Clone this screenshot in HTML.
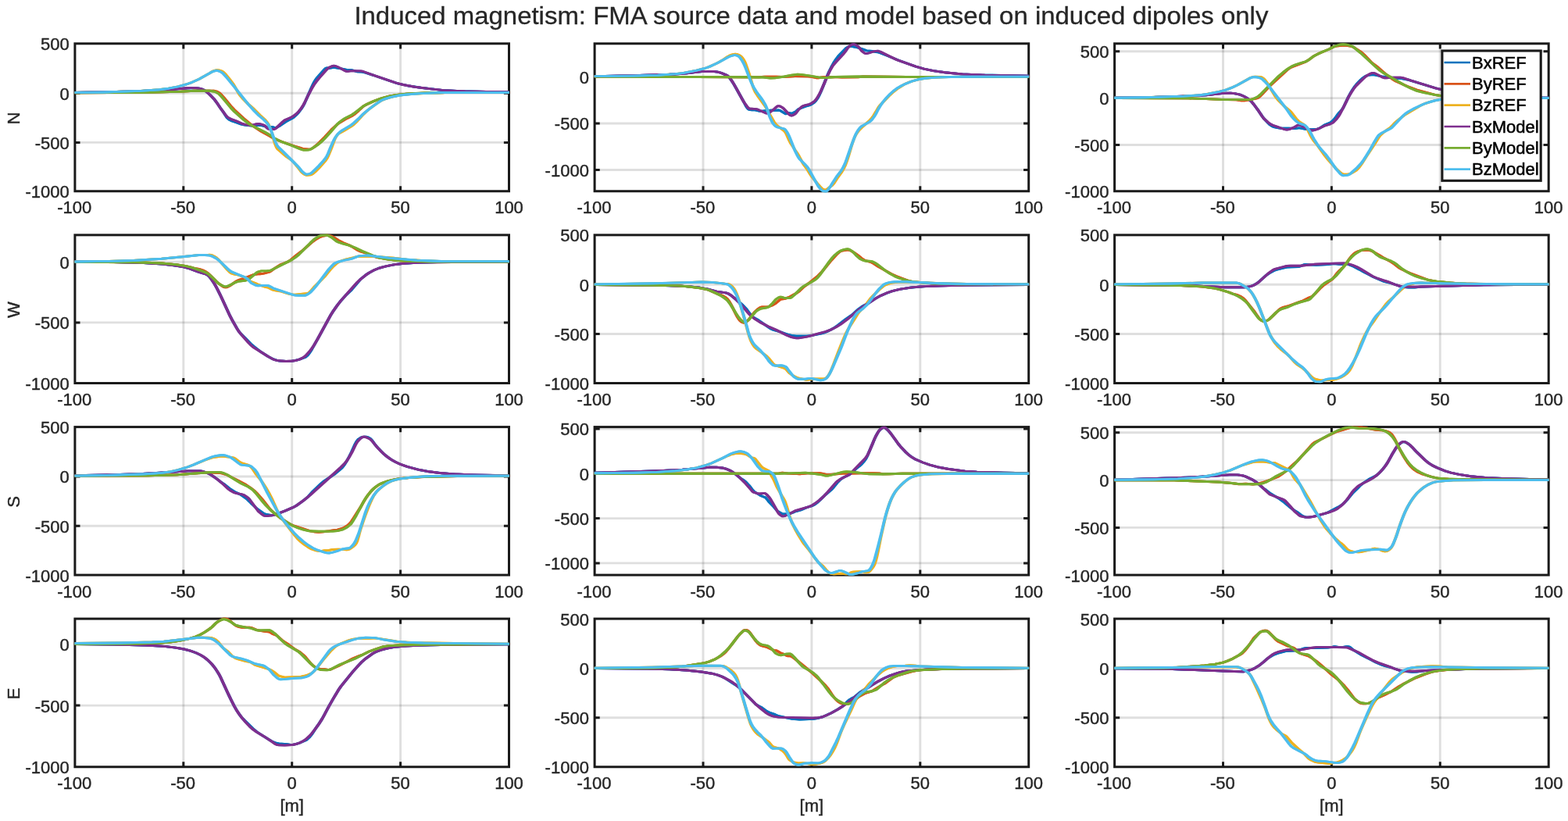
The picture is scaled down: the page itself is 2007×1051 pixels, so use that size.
<!DOCTYPE html>
<html lang="en">
<head>
<meta charset="utf-8">
<title>Induced magnetism: FMA source data and model based on induced dipoles only</title>
<style>
html,body{margin:0;padding:0;background:#fff;}
body{width:2007px;height:1051px;overflow:hidden;}
svg{display:block;}
</style>
</head>
<body>
<svg width="2007" height="1051" viewBox="0 0 2007 1051" font-family="'Liberation Sans', sans-serif">
<rect width="2007" height="1051" fill="#fff"/>
<defs>
<clipPath id="c00"><rect x="94.40" y="53.90" width="558.60" height="192.75"/></clipPath>
<clipPath id="c01"><rect x="759.60" y="53.90" width="558.60" height="192.75"/></clipPath>
<clipPath id="c02"><rect x="1425.10" y="53.90" width="558.60" height="192.75"/></clipPath>
<clipPath id="c10"><rect x="94.40" y="298.95" width="558.60" height="193.45"/></clipPath>
<clipPath id="c11"><rect x="759.60" y="298.95" width="558.60" height="193.45"/></clipPath>
<clipPath id="c12"><rect x="1425.10" y="298.95" width="558.60" height="193.45"/></clipPath>
<clipPath id="c20"><rect x="94.40" y="544.70" width="558.60" height="193.30"/></clipPath>
<clipPath id="c21"><rect x="759.60" y="544.70" width="558.60" height="193.30"/></clipPath>
<clipPath id="c22"><rect x="1425.10" y="544.70" width="558.60" height="193.30"/></clipPath>
<clipPath id="c30"><rect x="94.40" y="790.20" width="558.60" height="193.45"/></clipPath>
<clipPath id="c31"><rect x="759.60" y="790.20" width="558.60" height="193.45"/></clipPath>
<clipPath id="c32"><rect x="1425.10" y="790.20" width="558.60" height="193.45"/></clipPath>
</defs>
<text x="1038.4" y="31.3" font-size="31.4" fill="#262626" stroke="#262626" stroke-width="0.30" text-anchor="middle" textLength="1170" lengthAdjust="spacingAndGlyphs">Induced magnetism: FMA source data and model based on induced dipoles only</text>
<g>
<path d="M234.80 55.80V244.75M373.70 55.80V244.75M512.60 55.80V244.75" stroke="#262626" stroke-opacity="0.15" stroke-width="2.9" fill="none"/>
<path d="M95.90 119.20H651.50M95.90 182.40H651.50" stroke="#262626" stroke-opacity="0.15" stroke-width="2.9" fill="none"/>
<path d="M234.80 244.75v-6.60M234.80 55.80v6.60M373.70 244.75v-6.60M373.70 55.80v6.60M512.60 244.75v-6.60M512.60 55.80v6.60M95.90 119.20h6.60M651.50 119.20h-6.60M95.90 182.40h6.60M651.50 182.40h-6.60" stroke="#1a1a1a" stroke-width="3.0" fill="none"/>
<rect x="95.90" y="55.80" width="555.60" height="188.95" fill="none" stroke="#1a1a1a" stroke-width="3.0"/>
<g clip-path="url(#c00)" fill="none" stroke-width="2.9" stroke-linejoin="round">
<path id="p00bxr" d="M95.9 118.5L161.9 117.1L202.4 115.7L223.4 114.1L239.9 112.7L248.9 112.5L254.9 113.2L259.4 114.4L262.4 116.1L265.4 118.3L269.9 122.5L274.4 127.3L277.4 131.3L281.9 138L286.4 144.2L289.4 149.1L290.9 151L292.4 152.4L293.9 153.5L296.9 154.8L302.9 156.8L308.9 159.2L313.4 160.1L322.4 161.1L331.4 160.3L335.9 160.8L338.9 161.7L341.9 162.8L343.4 162.9L347.9 162.5L350.9 163.2L352.4 163.4L353.9 163.2L358.4 160.9L362.9 157.8L365.9 155.7L373.4 151.8L376.4 149.7L379.4 147L382.4 143.7L385.4 139.7L386.9 137.4L388.4 134.9L389.9 132L394.4 121.8L398.9 111.6L400.4 108.4L401.9 105.5L403.4 102.9L404.9 100.8L407.9 97.2L415.4 88.8L416.9 87.4L418.4 87L421.4 87.2L425.9 86.5L428.9 86.5L437.9 88.2L443.9 89.5L449.9 89.6L452.9 90.3L457.4 91.8L463.4 92.1L467.9 93.2L478.4 96.5L499.4 103.7L509.9 107.1L521.9 109.7L538.4 112.3L565.4 115.4L589.4 116.7L632.9 117.7L651.5 117.9" stroke="#0072BD" transform="translate(-0.50 0)"/><use href="#p00bxr" x="1.00"/>
<path id="p00byr" d="M95.9 118.9L185.9 118.3L227.9 117.4L248.9 116.3L269.9 116.1L274.4 116.3L277.4 117.1L280.4 118.7L283.4 121.4L286.4 124.7L295.4 135.7L299.9 140.6L311.9 151.5L320.9 159.2L325.4 162.3L334.4 168.3L344.9 174L349.4 176.7L359.9 181.1L371.9 185.3L377.9 187.3L383.9 189.1L386.9 190.2L389.9 190.8L395.9 191.2L397.4 190.9L398.9 190.4L401.9 188.4L406.4 184.7L415.4 175.7L424.4 165.9L431.9 159L434.9 156.9L443.9 151.6L449.9 148.7L454.4 145.7L458.9 141.8L464.9 136.3L467.9 134.4L476.9 130.1L487.4 126.1L497.9 123.2L506.9 121.6L520.4 120.1L541.4 119.1L569.9 118.5L651.5 118.5" stroke="#D95319" transform="translate(-0.50 0)"/><use href="#p00byr" x="1.00"/>
<path id="p00bzr" d="M95.9 118.5L133.4 118L179.9 116.4L203.9 114.7L215.9 113.2L227.9 110.8L238.4 108L245.9 105.3L254.9 101.2L266.9 94.6L271.4 91.7L274.4 90.4L277.4 89.7L280.4 90L283.4 90.8L284.9 91.6L286.4 92.7L289.4 95.8L293.9 101.3L298.4 107.4L299.9 109.7L304.4 117.7L305.9 120.2L307.4 122.4L310.4 125.9L317.9 133.4L325.4 139.9L332.9 147.5L338.9 153L341.9 156.5L343.4 158.7L344.9 161.7L346.4 165.4L347.9 169.8L349.4 175L350.9 180.5L352.4 185.3L353.9 188.8L355.4 191L358.4 193.5L362.9 197.3L365.9 200L371.9 204L373.4 205.2L376.4 208.3L380.9 213.7L385.4 219.7L386.9 221.2L388.4 222.4L389.9 223.4L391.4 224L392.9 224.2L397.4 223.8L398.9 223.3L400.4 222.5L403.4 220L407.9 215.5L416.9 205.2L418.4 203L419.9 200.1L422.9 193L424.4 189.2L427.4 181L428.9 177.3L430.4 174.5L431.9 172.4L433.4 171.1L436.4 169.4L440.9 167L449.9 161.6L452.9 159.3L457.4 154.9L464.9 146.6L469.4 142.3L473.9 138.5L484.4 131L488.9 128.3L494.9 126L505.4 123.2L512.9 121.8L527.9 120.3L551.9 119L569.9 118.5L651.5 118.5" stroke="#EDB120" transform="translate(-0.50 0)"/><use href="#p00bzr" x="1.00"/>
<path id="p00bx" d="M95.9 118.5L161.9 117.1L202.4 115.7L221.9 114.2L239.9 112.7L248.9 112.4L254.9 113.2L257.9 113.9L260.9 115.1L263.9 117.1L268.4 121L274.4 127.2L277.4 131.3L281.9 138L287.9 146.2L289.4 148.1L290.9 149.7L292.4 150.8L295.4 152.3L302.9 155.1L310.4 158.5L313.4 159.4L319.4 160.3L322.4 160.3L328.4 158.7L331.4 158.5L334.4 159.1L337.4 160.1L338.9 160.8L341.9 163.9L343.4 165L349.4 165.5L350.9 165.5L352.4 164.8L353.9 163.6L361.4 156.4L364.4 153.9L367.4 152.5L371.9 150.7L376.4 148L379.4 145.7L382.4 142.7L385.4 138.9L388.4 134.3L389.9 131.5L394.4 122L398.9 113.6L401.9 108.5L404.9 104.3L409.4 98.9L418.4 88.8L419.9 87.5L421.4 86.4L424.4 85L425.9 84.5L427.4 84.3L428.9 84.4L431.9 85.5L437.9 88.5L440.9 90.3L442.4 91L443.9 91.4L445.4 91.4L449.9 90.6L461.9 90.9L464.9 91.5L475.4 95.4L506.9 106.2L515.9 108.5L530.9 111.2L551.9 113.9L568.4 115.6L595.4 116.9L651.5 117.9" stroke="#7E2F8E" transform="translate(-0.50 0)"/><use href="#p00bx" x="1.00"/>
<path id="p00by" d="M95.9 118.9L185.9 118.3L227.9 117.4L248.9 116.3L268.4 116.3L274.4 117.2L277.4 118.5L280.4 120.4L283.4 123.5L287.9 128.9L295.4 137.9L299.9 142.7L311.9 153.4L317.9 158L322.4 160.8L338.9 169L344.9 172.5L350.9 176.8L356.9 180L362.9 182.3L371.9 185.6L383.9 190.6L386.9 191.7L388.4 192.1L392.9 192L395.9 191.7L397.4 191.2L401.9 188.5L406.4 185.5L410.9 181.9L415.4 177.5L422.9 169.2L431.9 158.9L434.9 156.1L439.4 152.8L443.9 150.2L449.9 147.4L452.9 145.3L464.9 136.1L470.9 132.8L479.9 128.9L488.9 125.6L499.4 122.9L508.4 121.4L521.9 120L542.9 119L569.9 118.5L651.5 118.5" stroke="#77AC30" transform="translate(-0.50 0)"/><use href="#p00by" x="1.00"/>
<path id="p00bz" d="M95.9 118.5L133.4 118L179.9 116.4L203.9 114.7L215.9 113.2L227.9 110.8L238.4 108L245.9 105.3L254.9 101.2L266.9 94.6L269.9 92.7L272.9 91.4L275.9 90.5L277.4 90.3L278.9 90.6L281.9 91.7L283.4 92.5L284.9 93.6L290.9 100.1L299.9 111.1L317.9 133.6L325.4 142L331.4 148L337.4 153L340.4 156L341.9 157.7L343.4 159.7L344.9 162.3L346.4 165.8L347.9 169.6L350.9 178L352.4 181.6L353.9 184.7L355.4 187.2L356.9 188.9L362.9 194.6L380.9 212.6L382.4 214.2L385.4 218L386.9 219.7L389.9 222.1L391.4 223L392.9 223.2L395.9 222.6L397.4 222.1L398.9 221.2L407.9 212.6L413.9 206L416.9 202.1L418.4 199.7L419.9 196.6L422.9 189L425.9 182.4L427.4 179.2L428.9 176.5L430.4 174.3L431.9 172.3L433.4 170.6L434.9 169.2L437.9 167L448.4 160.8L452.9 157.4L458.9 151.9L464.9 145.8L470.9 140.8L479.9 134.1L487.4 129L491.9 127L499.4 124.7L509.9 122.3L523.4 120.7L542.9 119.4L568.4 118.5L651.5 118.5" stroke="#4DBEEE" transform="translate(-0.50 0)"/><use href="#p00bz" x="1.00"/>
</g>
<g font-size="22" fill="#262626" stroke="#262626" stroke-width="0.42" text-anchor="middle">
<text x="95.3" y="273.1">-100</text>
<text x="234.2" y="273.1">-50</text>
<text x="373.7" y="273.1">0</text>
<text x="512.6" y="273.1">50</text>
<text x="651.5" y="273.1">100</text>
</g>
<g font-size="22" fill="#262626" stroke="#262626" stroke-width="0.42" text-anchor="end">
<text x="88.7" y="64.2">500</text>
<text x="88.7" y="127.6">0</text>
<text x="88.7" y="190.8">-500</text>
<text x="88.7" y="253.2">-1000</text>
</g>
<text transform="translate(25.2,151.3) rotate(-90)" font-size="22" fill="#262626" stroke="#262626" stroke-width="0.42" text-anchor="middle">N</text>
</g>
<g>
<path d="M900.00 55.80V244.75M1038.90 55.80V244.75M1177.80 55.80V244.75" stroke="#262626" stroke-opacity="0.15" stroke-width="2.9" fill="none"/>
<path d="M761.10 98.50H1316.70M761.10 158.00H1316.70M761.10 217.50H1316.70" stroke="#262626" stroke-opacity="0.15" stroke-width="2.9" fill="none"/>
<path d="M900.00 244.75v-6.60M900.00 55.80v6.60M1038.90 244.75v-6.60M1038.90 55.80v6.60M1177.80 244.75v-6.60M1177.80 55.80v6.60M761.10 98.50h6.60M1316.70 98.50h-6.60M761.10 158.00h6.60M1316.70 158.00h-6.60M761.10 217.50h6.60M1316.70 217.50h-6.60" stroke="#1a1a1a" stroke-width="3.0" fill="none"/>
<rect x="761.10" y="55.80" width="555.60" height="188.95" fill="none" stroke="#1a1a1a" stroke-width="3.0"/>
<g clip-path="url(#c01)" fill="none" stroke-width="2.9" stroke-linejoin="round">
<path id="p01bxr" d="M761.1 97.6L810.6 96.8L857.1 95.3L875.1 94.2L893.1 92.1L899.1 91.5L914.1 91.5L918.6 92.1L923.1 93.3L929.1 95.8L930.6 96.6L932.1 97.8L933.6 99.4L936.6 103.4L939.6 108.2L945.6 119L950.1 127L951.6 129.6L954.6 135.4L956.1 137.8L957.6 139.5L959.1 140.4L962.1 140.7L966.6 140.8L969.6 141.5L972.6 142.3L975.6 142.1L980.1 141.7L983.1 141.6L986.1 141.2L993.6 141.2L996.6 141L998.1 141.3L1005.6 145.7L1007.1 145.6L1008.6 145L1010.1 144.7L1013.1 145.1L1014.6 144.9L1017.6 143.4L1019.1 142.3L1022.1 139.7L1025.1 138.3L1031.1 136.2L1035.6 134.9L1038.6 133.6L1041.6 131.6L1043.1 130.2L1044.6 128.5L1046.1 126.4L1047.6 123.9L1049.1 121L1050.6 117.7L1053.6 110.4L1058.1 98.9L1061.1 91.9L1064.1 85.8L1067.1 80.4L1070.1 75.8L1073.1 71.8L1082.1 62.4L1083.6 61.2L1085.1 60.4L1086.6 59.8L1088.1 59.4L1091.1 59.5L1098.6 61.1L1103.1 62.7L1106.1 63.7L1109.1 64.9L1116.6 65.4L1121.1 66.6L1124.1 66.9L1127.1 67.8L1136.1 71.5L1151.1 77.7L1172.1 85.2L1182.6 88.1L1194.6 90.6L1209.6 92.8L1230.6 94.9L1256.1 96L1316.7 97.2" stroke="#0072BD" transform="translate(-0.50 0)"/><use href="#p01bxr" x="1.00"/>
<path id="p01byr" d="M761.1 98.1L954.6 98.7L971.1 98.8L978.6 98.3L987.6 98.3L993.6 98.2L1002.6 98.5L1017.6 97.5L1034.1 97.9L1038.6 98.3L1044.6 99.7L1047.6 99.8L1053.6 98.8L1067.1 98.5L1077.6 99.1L1098.6 98.7L1104.6 98L1160.1 98.5L1316.7 98.5" stroke="#D95319" transform="translate(-0.50 0)"/><use href="#p01byr" x="1.00"/>
<path id="p01bzr" d="M761.1 97.6L810.6 97.1L842.1 96.2L864.6 94.6L875.1 93.4L891.6 90.2L902.1 87.5L908.1 85.4L918.6 80.5L924.6 77.1L930.6 73L935.1 70.6L938.1 69.6L941.1 69.3L944.1 69.8L945.6 70.4L947.1 71.2L948.6 72.3L950.1 73.9L951.6 76L953.1 78.7L954.6 82.1L957.6 90.8L959.1 95.3L960.6 100.1L962.1 105.4L963.6 110.4L965.1 114.5L966.6 117.7L969.6 122.3L980.1 137L981.6 139.6L983.1 142.7L984.6 145.4L987.6 150.4L990.6 155.7L992.1 158L993.6 159.9L995.1 161.2L998.1 163.1L1001.1 165.7L1002.6 166.6L1004.1 167.9L1005.6 169.9L1007.1 172.8L1010.1 179.6L1011.6 182.6L1014.6 187.3L1017.6 192L1020.6 196.3L1022.1 198.8L1026.6 207.1L1028.1 209.7L1029.6 211.9L1032.6 215.9L1034.1 218.2L1037.1 223.3L1038.6 225.5L1047.6 236.6L1050.6 239.9L1052.1 241.3L1053.6 242.4L1055.1 243L1056.6 243.2L1058.1 242.7L1062.6 239.1L1064.1 238.1L1065.6 236.8L1067.1 235.1L1071.6 228.1L1077.6 219.8L1079.1 217.3L1080.6 214.5L1082.1 211.3L1083.6 207.2L1085.1 202.8L1086.6 198L1089.6 187.8L1091.1 183L1092.6 178.8L1094.1 175.2L1095.6 172.3L1097.1 169.9L1100.1 166.1L1103.1 163.1L1112.1 155.2L1115.1 152L1118.1 148L1121.1 143.1L1124.1 137.9L1125.6 135.8L1128.6 132.5L1134.6 126.3L1139.1 121.6L1143.6 117.5L1149.6 112.9L1157.1 108.2L1164.6 104.9L1172.1 102.6L1181.1 100.7L1188.6 99.7L1205.1 98.7L1233.6 98.1L1316.7 98.1" stroke="#EDB120" transform="translate(-0.50 0)"/><use href="#p01bzr" x="1.00"/>
<path id="p01bx" d="M761.1 97.6L810.6 96.8L857.1 95.3L875.1 94.3L891.6 92.4L897.6 91.6L914.1 91.5L918.6 92.1L923.1 93.3L929.1 95.8L930.6 96.5L932.1 97.6L933.6 99.2L936.6 103.4L938.1 105.6L942.6 113.4L948.6 124.4L951.6 129.7L953.1 132L956.1 136.2L957.6 138L959.1 139L968.1 139.6L971.1 140.7L980.1 144.8L981.6 145.1L983.1 145L984.6 144.4L990.6 139.8L993.6 137.1L995.1 136L996.6 135.6L998.1 135.9L1001.1 137.5L1002.6 138.6L1010.1 146.6L1011.6 147.7L1013.1 148L1014.6 147.6L1017.6 146L1019.1 144.5L1022.1 140.5L1025.1 137.7L1026.6 136.5L1028.1 135.6L1031.1 134.6L1035.6 133.6L1038.6 132.3L1041.6 130.3L1043.1 129L1044.6 127.3L1046.1 125.1L1049.1 119.9L1050.6 116.9L1055.1 106.7L1059.6 96L1062.6 89.9L1064.1 87.2L1065.6 84.7L1067.1 82.7L1070.1 79.3L1079.1 69.6L1082.1 65.9L1085.1 61.4L1086.6 59.7L1089.6 57.6L1091.1 56.9L1092.6 56.7L1094.1 57L1095.6 57.7L1098.6 59.8L1100.1 61.4L1103.1 65.4L1106.1 67.7L1107.6 68.4L1109.1 68.6L1112.1 67.9L1116.6 66.4L1121.1 65.4L1124.1 65.3L1127.1 66.4L1137.6 71.6L1148.1 76.6L1172.1 85.2L1182.6 88.1L1194.6 90.6L1209.6 92.8L1232.1 95L1260.6 96.2L1316.7 97.2" stroke="#7E2F8E" transform="translate(-0.50 0)"/><use href="#p01bx" x="1.00"/>
<path id="p01by" d="M761.1 98.1L954.6 98.7L977.1 99L986.1 100L992.1 99.8L1004.1 98L1013.1 96.2L1020.6 95.3L1025.1 95.4L1035.6 96.9L1047.6 98.9L1053.6 99.5L1059.6 99.2L1068.6 98.5L1098.6 98L1161.6 98.5L1316.7 98.5" stroke="#77AC30" transform="translate(-0.50 0)"/><use href="#p01by" x="1.00"/>
<path id="p01bz" d="M761.1 97.6L810.6 97.1L842.1 96.2L864.6 94.6L875.1 93.4L891.6 90.2L902.1 87.5L908.1 85.4L918.6 80.5L930.6 73.9L935.1 71.8L939.6 70.6L941.1 70.6L944.1 71.4L945.6 72.2L947.1 73.6L950.1 78L951.6 80.7L953.1 83.9L954.6 87.4L959.1 99.3L962.1 106.7L963.6 109.8L965.1 112.5L968.1 117.3L971.1 121.5L974.1 125.4L977.1 129.9L978.6 132.4L980.1 135.2L981.6 138.9L984.6 147.8L986.1 151.4L987.6 154.7L989.1 157.5L990.6 159.4L992.1 161L993.6 162.2L995.1 162.8L1002.6 164.6L1004.1 165.1L1005.6 166.5L1007.1 168.7L1008.6 171.3L1010.1 174.4L1016.1 189.4L1017.6 193L1020.6 199.1L1022.1 201.7L1023.6 203.8L1026.6 206.8L1029.6 209.7L1032.6 213L1034.1 214.9L1035.6 217.2L1043.1 231L1047.6 238.7L1049.1 240.6L1050.6 242.3L1052.1 243.7L1053.6 244.5L1056.6 245L1058.1 244.8L1059.6 243.3L1062.6 239.2L1065.6 234.2L1071.6 225.1L1076.1 219.3L1077.6 217.1L1079.1 214.4L1080.6 211.3L1082.1 208L1083.6 204.1L1089.6 186.8L1092.6 178.7L1094.1 174.8L1095.6 171.4L1097.1 168.7L1098.6 166.3L1100.1 164.3L1101.6 162.7L1103.1 161.5L1112.1 156.6L1113.6 155.5L1115.1 154.2L1116.6 152.5L1119.6 148.4L1121.1 145.8L1124.1 139.9L1127.1 135L1130.1 130.6L1134.6 125.2L1139.1 120.5L1143.6 116.5L1148.1 113.1L1152.6 110.4L1160.1 106.8L1167.6 103.9L1175.1 101.8L1184.1 100.2L1197.6 99.1L1227.6 98.2L1316.7 98.1" stroke="#4DBEEE" transform="translate(-0.50 0)"/><use href="#p01bz" x="1.00"/>
</g>
<g font-size="22" fill="#262626" stroke="#262626" stroke-width="0.42" text-anchor="middle">
<text x="760.5" y="273.1">-100</text>
<text x="899.4" y="273.1">-50</text>
<text x="1038.9" y="273.1">0</text>
<text x="1177.8" y="273.1">50</text>
<text x="1316.7" y="273.1">100</text>
</g>
<g font-size="22" fill="#262626" stroke="#262626" stroke-width="0.42" text-anchor="end">
<text x="753.9" y="106.9">0</text>
<text x="753.9" y="166.4">-500</text>
<text x="753.9" y="225.9">-1000</text>
</g>
</g>
<g>
<path d="M1565.50 55.80V244.75M1704.40 55.80V244.75M1843.30 55.80V244.75" stroke="#262626" stroke-opacity="0.15" stroke-width="2.9" fill="none"/>
<path d="M1426.60 65.70H1982.20M1426.60 125.60H1982.20M1426.60 185.50H1982.20" stroke="#262626" stroke-opacity="0.15" stroke-width="2.9" fill="none"/>
<path d="M1565.50 244.75v-6.60M1565.50 55.80v6.60M1704.40 244.75v-6.60M1704.40 55.80v6.60M1843.30 244.75v-6.60M1843.30 55.80v6.60M1426.60 65.70h6.60M1982.20 65.70h-6.60M1426.60 125.60h6.60M1982.20 125.60h-6.60M1426.60 185.50h6.60M1982.20 185.50h-6.60" stroke="#1a1a1a" stroke-width="3.0" fill="none"/>
<rect x="1426.60" y="55.80" width="555.60" height="188.95" fill="none" stroke="#1a1a1a" stroke-width="3.0"/>
<g clip-path="url(#c02)" fill="none" stroke-width="2.9" stroke-linejoin="round">
<path id="p02bxr" d="M1426.6 125.2L1476.1 124.4L1521.1 123L1543.6 121.7L1558.6 120.1L1567.6 119.3L1575.1 119.1L1581.1 119.8L1587.1 121.2L1591.6 123L1596.1 125.6L1599.1 127.7L1602.1 130.4L1605.1 134L1611.1 142.2L1615.6 148.9L1617.1 150.9L1623.1 157.5L1624.6 159L1627.6 161.2L1630.6 162.6L1635.1 163.6L1639.6 164.3L1650.1 164.3L1656.1 164.5L1659.1 164.4L1662.1 163.9L1663.6 163.9L1671.1 165.4L1680.1 165.7L1686.1 165.1L1689.1 164.1L1695.1 160.2L1702.6 157L1704.1 156.1L1705.6 154.9L1707.1 153.4L1710.1 149.6L1713.1 145.4L1717.6 140.4L1719.1 138.3L1722.1 132.2L1725.1 125.8L1728.1 120.1L1731.1 115L1734.1 110.6L1737.1 107L1741.6 102.3L1744.6 99.7L1747.6 97.7L1750.6 96.4L1755.1 95.7L1758.1 95.6L1768.6 97.9L1776.1 98.7L1788.1 100.2L1794.1 100.5L1801.6 102.1L1803.1 102.3L1837.6 112.9L1852.6 116.5L1867.6 119.1L1890.1 121.9L1909.6 123.4L1941.1 124.7L1978.6 125.2L1982.2 125.2" stroke="#0072BD" transform="translate(-0.50 0)"/><use href="#p02bxr" x="1.00"/>
<path id="p02byr" d="M1426.6 125.5L1521.1 125.8L1570.6 127.6L1582.6 127.7L1588.6 128.7L1593.1 128.8L1606.6 126.4L1609.6 125.6L1611.1 124.7L1612.6 123.5L1615.6 120.5L1624.6 110.8L1636.6 99.6L1648.6 88.7L1651.6 86.6L1654.6 85.3L1660.6 83.2L1671.1 79.1L1674.1 77.3L1681.6 71.8L1687.6 68.7L1695.1 65.5L1701.1 63L1707.1 59.9L1710.1 59.1L1717.6 58.2L1723.6 58.4L1729.6 59.3L1732.6 60.5L1741.6 66.2L1746.1 70L1750.6 74.7L1755.1 79.5L1758.1 82L1764.1 86.5L1773.1 94.3L1782.1 101.2L1786.6 103.9L1801.6 110.6L1813.6 115.1L1837.6 121.6L1854.1 123.7L1870.6 124.7L1911.1 125.5L1982.2 125.5" stroke="#D95319" transform="translate(-0.50 0)"/><use href="#p02byr" x="1.00"/>
<path id="p02bzr" d="M1426.6 125.2L1465.6 124.7L1513.6 123.2L1534.6 121.9L1543.6 120.7L1560.1 117.4L1569.1 115.1L1576.6 112.2L1584.1 108.7L1600.6 99.6L1603.6 98.5L1606.6 98.1L1612.6 98.4L1614.1 98.7L1615.6 99.3L1617.1 100.4L1618.6 101.8L1620.1 103.6L1623.1 107.9L1632.1 122.9L1633.6 125.1L1636.6 128.7L1644.1 136.1L1650.1 141L1653.1 144.1L1659.1 151.9L1660.6 153.6L1662.1 155.1L1665.1 157.2L1668.1 159L1669.6 160.1L1671.1 161.7L1672.6 163.9L1674.1 166.7L1677.1 172.8L1678.6 175.7L1680.1 178.1L1681.6 180.2L1686.1 185.6L1695.1 198.3L1699.6 204L1710.1 215.7L1716.1 221.2L1717.6 222.3L1719.1 222.9L1722.1 223.3L1725.1 223.2L1728.1 222.5L1731.1 221L1735.6 218.3L1737.1 217L1740.1 213.7L1743.1 209.5L1749.1 200L1759.6 184.2L1764.1 176.9L1765.6 174.7L1767.1 172.9L1770.1 170.1L1774.6 166.8L1779.1 163.7L1782.1 160.9L1785.1 157.6L1788.1 154.9L1794.1 150.2L1798.6 146.7L1815.1 137L1818.1 135.1L1824.1 132.5L1833.1 129.6L1840.6 127.9L1852.6 126.6L1867.6 126L1902.1 125.5L1982.2 125.5" stroke="#EDB120" transform="translate(-0.50 0)"/><use href="#p02bzr" x="1.00"/>
<path id="p02bx" d="M1426.6 125.2L1476.1 124.4L1521.1 123L1543.6 121.7L1557.1 120.3L1566.1 119.4L1575.1 119.1L1581.1 119.8L1587.1 121.2L1591.6 123L1596.1 125.6L1600.6 128.8L1602.1 130.3L1605.1 134L1611.1 142.2L1615.6 149L1617.1 151L1618.6 152.7L1623.1 156.7L1626.1 158.9L1629.1 160.4L1635.1 162.4L1641.1 164.5L1644.1 165.6L1647.1 166.1L1650.1 165.6L1656.1 163.2L1660.6 160.4L1662.1 160L1663.6 160.1L1666.6 161.4L1675.6 166L1678.6 167L1680.1 167L1683.1 166.4L1687.6 164.8L1695.1 161.2L1702.6 158.8L1705.6 157.3L1707.1 156.1L1710.1 153L1713.1 149.2L1714.6 146.8L1720.6 135.4L1725.1 126.1L1726.6 123.2L1729.6 118.2L1732.6 113.7L1735.6 109.9L1740.1 105.4L1747.6 98.3L1750.6 96.3L1753.6 94.5L1755.1 93.9L1756.6 93.5L1758.1 93.4L1759.6 93.8L1770.1 99.2L1771.6 99.7L1774.6 99.8L1783.6 99.1L1792.6 99.1L1795.6 99.7L1806.1 103.2L1837.6 112.9L1852.6 116.5L1866.1 118.9L1887.1 121.6L1905.1 123.1L1933.6 124.4L1965.1 125.1L1982.2 125.2" stroke="#7E2F8E" transform="translate(-0.50 0)"/><use href="#p02bx" x="1.00"/>
<path id="p02by" d="M1426.6 125.5L1521.1 125.8L1570.6 127.6L1600.6 127.6L1603.6 126.8L1609.6 124L1611.1 122.9L1614.1 120.3L1636.6 97.6L1642.6 92.5L1648.6 88L1653.1 85.1L1657.6 83.1L1665.1 80.6L1671.1 78.9L1672.6 78.2L1675.6 76.3L1680.1 72.8L1684.6 70.2L1692.1 66.6L1701.1 63L1708.6 59.1L1714.6 57.3L1719.1 56.7L1723.6 57.1L1729.6 58.8L1732.6 60.4L1741.6 67.8L1761.1 85.7L1765.6 89.8L1770.1 92.9L1788.1 103.5L1797.1 108.8L1806.1 113.2L1813.6 116.3L1822.6 118.7L1837.6 121.6L1854.1 123.7L1870.6 124.7L1911.1 125.5L1982.2 125.5" stroke="#77AC30" transform="translate(-0.50 0)"/><use href="#p02by" x="1.00"/>
<path id="p02bz" d="M1426.6 125.2L1465.6 124.7L1515.1 123.1L1536.1 121.8L1546.6 120.2L1561.6 117.1L1570.6 114.6L1578.1 111.6L1584.1 108.8L1599.1 100.4L1602.1 99.1L1605.1 98.5L1609.6 99L1612.6 99.8L1614.1 100.3L1615.6 101.3L1618.6 104.1L1621.6 107.2L1624.6 110.9L1647.1 140.2L1653.1 148.8L1656.1 152.2L1659.1 155.1L1662.1 157.3L1665.1 158.6L1668.1 159.5L1669.6 160.1L1671.1 161.2L1672.6 162.7L1675.6 166.8L1677.1 169.2L1680.1 175L1681.6 177.7L1686.1 184.8L1689.1 189L1692.1 192.4L1696.6 197.4L1701.1 203.4L1710.1 216.3L1714.6 221.4L1716.1 222.9L1717.6 224.1L1719.1 224.7L1723.6 224.4L1725.1 224.1L1726.6 223.6L1728.1 222.7L1737.1 214.6L1741.6 209.8L1744.6 206L1749.1 199.1L1753.6 191.7L1758.1 183.6L1762.6 176.1L1764.1 173.9L1765.6 172.4L1768.6 170.3L1774.6 167.1L1779.1 165L1780.6 164L1782.1 162.8L1795.6 148.5L1798.6 145.8L1803.1 142.7L1810.6 138.6L1821.1 133.7L1828.6 131L1837.6 128.5L1843.6 127.5L1857.1 126.3L1890.1 125.6L1982.2 125.5" stroke="#4DBEEE" transform="translate(-0.50 0)"/><use href="#p02bz" x="1.00"/>
</g>
<g font-size="22" fill="#262626" stroke="#262626" stroke-width="0.42" text-anchor="middle">
<text x="1426.0" y="273.1">-100</text>
<text x="1564.9" y="273.1">-50</text>
<text x="1704.4" y="273.1">0</text>
<text x="1843.3" y="273.1">50</text>
<text x="1982.2" y="273.1">100</text>
</g>
<g font-size="22" fill="#262626" stroke="#262626" stroke-width="0.42" text-anchor="end">
<text x="1419.4" y="74.1">500</text>
<text x="1419.4" y="134.0">0</text>
<text x="1419.4" y="193.9">-500</text>
<text x="1419.4" y="253.2">-1000</text>
</g>
</g>
<g>
<path d="M234.80 300.85V490.50M373.70 300.85V490.50M512.60 300.85V490.50" stroke="#262626" stroke-opacity="0.15" stroke-width="2.9" fill="none"/>
<path d="M95.90 335.30H651.50M95.90 412.90H651.50" stroke="#262626" stroke-opacity="0.15" stroke-width="2.9" fill="none"/>
<path d="M234.80 490.50v-6.60M234.80 300.85v6.60M373.70 490.50v-6.60M373.70 300.85v6.60M512.60 490.50v-6.60M512.60 300.85v6.60M95.90 335.30h6.60M651.50 335.30h-6.60M95.90 412.90h6.60M651.50 412.90h-6.60" stroke="#1a1a1a" stroke-width="3.0" fill="none"/>
<rect x="95.90" y="300.85" width="555.60" height="189.65" fill="none" stroke="#1a1a1a" stroke-width="3.0"/>
<g clip-path="url(#c10)" fill="none" stroke-width="2.9" stroke-linejoin="round">
<path id="p10bxr" d="M95.9 335L145.4 335.5L179.9 336.4L208.4 338.1L224.9 340L235.4 341.9L241.4 343.5L253.4 347.8L262.4 350.5L265.4 351.9L266.9 353.1L268.4 354.6L271.4 358.6L274.4 363.3L277.4 368.6L281.9 377.5L287.9 390.4L293.9 403.4L296.9 409.2L302.9 419.8L304.4 422.2L305.9 424.4L307.4 426.4L313.4 432.2L320.9 440L325.4 443.9L334.4 450.8L343.4 456.5L349.4 459.7L353.9 461.2L358.4 462L365.9 462.4L373.4 462.1L377.9 461.5L382.4 460.4L389.9 457.7L391.4 456.9L392.9 455.7L394.4 454.2L395.9 452.2L398.9 447.6L409.4 428.9L422.9 404.1L425.9 399.2L431.9 390.6L436.4 384.9L442.4 378.3L449.9 371.1L460.4 358.7L461.9 357.1L467.9 352.3L472.4 349.2L478.4 346L484.4 343.5L491.9 341.3L502.4 339.1L514.4 337.5L532.4 336.2L559.4 335.6L651.5 335.3" stroke="#0072BD" transform="translate(-0.50 0)"/><use href="#p10bxr" x="1.00"/>
<path id="p10byr" d="M95.9 335.3L175.4 335.7L206.9 337L224.9 338.6L236.9 340.4L244.4 342.2L248.9 343.5L254.9 344.5L259.4 345.9L262.4 347.3L265.4 349.2L268.4 351.9L277.4 360.8L280.4 363.3L284.9 366.5L286.4 367.4L287.9 367.9L289.4 367.9L290.9 367.5L293.9 366L302.9 359.7L305.9 358.3L314.9 355.4L323.9 351.8L329.9 350.7L332.9 350.8L337.4 350.1L344.9 348.1L346.4 347.3L352.4 342.9L358.4 339.2L362.9 337.3L368.9 334.8L371.9 332.9L379.4 326.6L386.9 321L400.4 309.2L403.4 307.1L409.4 303.6L412.4 302.4L418.4 301.3L419.9 301.3L422.9 301.9L425.9 303.1L433.4 307.8L439.4 310.8L446.9 313.9L451.4 316.3L457.4 320.1L460.4 321.5L469.4 324.4L476.9 327.7L482.9 329.6L499.4 332.4L515.9 334.1L539.9 334.9L651.5 335" stroke="#D95319" transform="translate(-0.50 0)"/><use href="#p10byr" x="1.00"/>
<path id="p10bzr" d="M95.9 335L139.4 334.4L170.9 333.5L206.9 331.2L230.9 329L253.4 326.6L260.9 326.5L263.9 326.6L268.4 326.3L271.4 326.8L274.4 328.2L277.4 330.2L280.4 333.1L290.9 345.3L293.9 348.3L295.4 349.4L296.9 350.2L299.9 351L304.4 351.8L311.9 354.4L314.9 355.9L319.4 359.4L320.9 360.3L326.9 362.6L331.4 364.7L340.4 367.5L343.4 368.1L346.4 369.6L349.4 371.2L352.4 371.9L358.4 372.7L370.4 376.3L374.9 377.2L377.9 377.3L389.9 376L392.9 375.8L394.4 375.4L395.9 374.4L397.4 372.9L401.9 367.6L412.4 357.3L415.4 354.3L418.4 350.6L422.9 345L425.9 341.7L430.4 337.6L433.4 335.5L436.4 334.1L442.4 332.1L452.9 329.7L457.4 328.4L460.4 328L484.4 328.6L503.9 330.3L520.4 332.2L542.9 333.7L568.4 334.6L651.5 334.6" stroke="#EDB120" transform="translate(-0.50 0)"/><use href="#p10bzr" x="1.00"/>
<path id="p10bx" d="M95.9 335L145.4 335.5L179.9 336.4L208.4 338.1L224.9 340L235.4 341.9L241.4 343.4L253.4 347.9L262.4 350.5L265.4 351.9L266.9 352.9L268.4 354.5L272.9 360.8L275.9 365.8L278.9 371.4L283.4 380.6L293.9 403.5L296.9 409.2L302.9 419.9L304.4 422.3L305.9 424.6L308.9 428.2L317.9 438.5L320.9 441.6L323.9 444.2L343.4 456.5L349.4 459.8L352.4 460.8L356.9 461.8L365.9 462.5L374.9 462L379.4 461.2L383.9 459.9L388.4 457.5L389.9 456.5L391.4 455.2L395.9 450.3L398.9 446.4L401.9 442L406.4 434.3L422.9 404L425.9 399.2L431.9 390.6L436.4 384.9L452.9 366.3L457.4 361.3L461.9 357.1L467.9 352.3L472.4 349.2L478.4 345.9L485.9 343L494.9 340.6L505.4 338.6L518.9 337.1L538.4 336L578.9 335.5L651.5 335.3" stroke="#7E2F8E" transform="translate(-0.50 0)"/><use href="#p10bx" x="1.00"/>
<path id="p10by" d="M95.9 335.3L175.4 335.7L206.9 337L224.9 338.6L236.9 340.4L244.4 342.1L257.9 346.6L263.9 349.1L266.9 350.9L271.4 354.8L277.4 360.8L280.4 363.4L281.9 364.4L286.4 366.5L287.9 366.9L289.4 366.9L292.4 365.9L296.9 363.7L299.9 362.1L304.4 360.4L308.9 359.8L313.4 359.3L316.4 358.3L319.4 356.7L322.4 354.2L328.4 349.1L329.9 348.2L334.4 346.9L341.9 346.8L344.9 346.6L346.4 346.2L368.9 334.9L373.4 332.6L377.9 329.6L382.4 326L397.4 310.9L401.9 306.6L403.4 305.4L407.9 302.7L410.9 301.5L415.4 301.1L418.4 301.1L419.9 301.5L424.4 303.9L430.4 308.7L433.4 310.2L439.4 312.2L446.9 314.1L454.4 317L463.4 321.4L478.4 327.5L485.9 330L496.4 332L509.9 333.6L523.4 334.4L550.4 335L651.5 335" stroke="#77AC30" transform="translate(-0.50 0)"/><use href="#p10by" x="1.00"/>
<path id="p10bz" d="M95.9 335L139.4 334.4L170.9 333.5L206.9 331.2L230.9 329L254.9 326.5L262.4 326.5L268.4 327.1L271.4 328L275.9 330.4L278.9 332.3L281.9 335L290.9 343.6L293.9 346.3L296.9 348.2L302.9 350.6L313.4 354.8L314.9 355.7L316.4 356.7L320.9 361.6L322.4 362.8L326.9 365L329.9 365.8L341.9 365.4L343.4 365.6L346.4 367.1L349.4 368.8L374.9 377.3L377.9 378.1L382.4 378.3L389.9 378.3L391.4 378L394.4 376.4L395.9 375.4L397.4 374.2L400.4 371.1L404.9 365.8L419.9 345.8L425.9 339.2L427.4 337.8L428.9 336.8L431.9 335.5L440.9 333.2L449.9 331.3L454.4 329.6L458.9 327.9L466.4 327.1L470.9 327L499.4 330.4L533.9 333.2L565.4 334.5L651.5 334.6" stroke="#4DBEEE" transform="translate(-0.50 0)"/><use href="#p10bz" x="1.00"/>
</g>
<g font-size="22" fill="#262626" stroke="#262626" stroke-width="0.42" text-anchor="middle">
<text x="95.3" y="518.9">-100</text>
<text x="234.2" y="518.9">-50</text>
<text x="373.7" y="518.9">0</text>
<text x="512.6" y="518.9">50</text>
<text x="651.5" y="518.9">100</text>
</g>
<g font-size="22" fill="#262626" stroke="#262626" stroke-width="0.42" text-anchor="end">
<text x="88.7" y="343.7">0</text>
<text x="88.7" y="421.3">-500</text>
<text x="88.7" y="498.9">-1000</text>
</g>
<text transform="translate(25.2,396.7) rotate(-90)" font-size="22" fill="#262626" stroke="#262626" stroke-width="0.42" text-anchor="middle">W</text>
</g>
<g>
<path d="M900.00 300.85V490.50M1038.90 300.85V490.50M1177.80 300.85V490.50" stroke="#262626" stroke-opacity="0.15" stroke-width="2.9" fill="none"/>
<path d="M761.10 364.25H1316.70M761.10 427.45H1316.70" stroke="#262626" stroke-opacity="0.15" stroke-width="2.9" fill="none"/>
<path d="M900.00 490.50v-6.60M900.00 300.85v6.60M1038.90 490.50v-6.60M1038.90 300.85v6.60M1177.80 490.50v-6.60M1177.80 300.85v6.60M761.10 364.25h6.60M1316.70 364.25h-6.60M761.10 427.45h6.60M1316.70 427.45h-6.60" stroke="#1a1a1a" stroke-width="3.0" fill="none"/>
<rect x="761.10" y="300.85" width="555.60" height="189.65" fill="none" stroke="#1a1a1a" stroke-width="3.0"/>
<g clip-path="url(#c11)" fill="none" stroke-width="2.9" stroke-linejoin="round">
<path id="p11bxr" d="M761.1 364.5L833.1 365.1L869.1 366L885.6 367.1L896.1 368.3L905.1 370L917.1 373.1L929.1 374.9L932.1 375.9L935.1 377.7L941.1 382.5L944.1 385.3L947.1 387.4L950.1 390L954.6 394.7L956.1 396.5L960.6 402.7L962.1 404.4L963.6 405.8L966.6 407.6L971.1 410.1L983.1 418.5L986.1 420.6L989.1 422L998.1 424.6L1008.6 428.3L1013.1 429.4L1019.1 430.2L1032.6 430.1L1037.1 429.8L1050.6 427.2L1055.1 425.9L1061.1 423.3L1067.1 420.1L1073.1 415.9L1082.1 408.9L1089.6 403.8L1092.6 401.4L1098.6 395.9L1103.1 392.6L1107.6 390.1L1112.1 387.9L1119.6 382.7L1127.1 378.6L1134.6 375.3L1142.1 372.6L1151.1 370.4L1164.6 368.3L1181.1 366.7L1202.1 365.9L1236.6 365L1316.7 364.6" stroke="#0072BD" transform="translate(-0.50 0)"/><use href="#p11bxr" x="1.00"/>
<path id="p11byr" d="M761.1 364.5L833.1 365.1L867.6 365.9L881.1 366.9L896.1 368.8L903.6 370.2L908.1 371.6L917.1 375.6L920.1 376.9L923.1 377.7L926.1 379.1L929.1 381L930.6 382.3L932.1 384.1L933.6 386.2L935.1 388.8L938.1 394.5L942.6 403.5L944.1 406.2L945.6 408.5L947.1 410.4L948.6 411.8L950.1 412.7L951.6 413.2L953.1 413.1L954.6 412.4L956.1 411.3L957.6 409.9L959.1 408.2L963.6 402.3L966.6 398.8L969.6 396L972.6 393.9L974.1 393.2L975.6 392.9L981.6 393L983.1 392.8L989.1 390.6L992.1 388.8L995.1 386.4L998.1 383.8L999.6 383L1004.1 382.5L1010.1 380.5L1016.1 377.1L1019.1 375.5L1022.1 373.5L1023.6 372.3L1028.1 367.9L1032.6 364.5L1037.1 361.2L1046.1 353.9L1052.1 347.7L1058.1 340.5L1064.1 333.2L1071.6 325.1L1074.6 322.5L1076.1 321.6L1077.6 321L1083.6 320.1L1085.1 320L1086.6 320.1L1089.6 321.2L1094.1 323.9L1098.6 327.2L1103.1 330.9L1106.1 332.8L1109.1 334L1115.1 335.7L1118.1 337.3L1124.1 341.3L1133.1 346.3L1140.6 350.5L1146.6 353.4L1164.6 360L1170.6 361L1193.1 362.8L1226.1 363.8L1316.7 363.9" stroke="#D95319" transform="translate(-0.50 0)"/><use href="#p11byr" x="1.00"/>
<path id="p11bzr" d="M761.1 363.9L834.6 362.9L879.6 361.6L897.6 361L911.1 361.4L923.1 362.6L929.1 363.5L930.6 363.4L932.1 363.6L933.6 364.2L935.1 365.1L936.6 366.2L938.1 367.8L939.6 369.7L941.1 372.3L942.6 375.5L944.1 379.3L945.6 383.7L948.6 393.3L951.6 403.7L954.6 414.5L957.6 425.8L959.1 430.8L960.6 435.1L962.1 438.3L963.6 441L965.1 443.3L966.6 445L968.1 446.4L975.6 451.6L981.6 456.2L984.6 459.3L989.1 465L990.6 466.6L992.1 467.5L1001.1 470.3L1004.1 471.3L1005.6 472.3L1007.1 473.8L1010.1 477.4L1014.6 480.5L1017.6 482.2L1020.6 483.6L1023.6 484.4L1031.1 486.2L1032.6 486.3L1040.1 485L1047.6 484.9L1053.6 484.9L1055.1 484.7L1056.6 484.3L1058.1 483.4L1059.6 481.8L1061.1 479.6L1062.6 476.8L1064.1 473.6L1067.1 466.1L1073.1 450.2L1079.1 435.2L1082.1 428.2L1085.1 422.4L1088.1 417.1L1094.1 407.9L1097.1 403L1098.6 400.8L1100.1 398.9L1104.6 394.3L1109.1 388.8L1113.6 382.8L1116.6 379.5L1125.6 370.6L1130.1 366.8L1133.1 364.9L1137.6 363.2L1143.6 361.7L1149.6 361.1L1160.1 360.9L1205.1 362.8L1238.1 363.5L1316.7 363.9" stroke="#EDB120" transform="translate(-0.50 0)"/><use href="#p11bzr" x="1.00"/>
<path id="p11bx" d="M761.1 364.5L833.1 365.1L869.1 366L885.6 367.1L896.1 368.3L905.1 370L917.1 373.1L929.1 374.9L932.1 375.8L935.1 377.7L941.1 382.5L947.1 388.4L959.1 402.2L962.1 405.1L966.6 408.6L972.6 412.4L983.1 417.8L993.6 422.4L1007.1 429.2L1013.1 431.6L1019.1 432.9L1022.1 432.9L1032.6 431.1L1038.6 429.6L1046.1 427.4L1056.6 424.6L1064.1 421.8L1070.1 418.8L1076.1 415.1L1085.1 408.4L1092.6 402L1098.6 397L1104.6 392.6L1112.1 387.9L1119.6 382.7L1127.1 378.6L1134.6 375.2L1142.1 372.6L1152.6 370.1L1167.6 367.9L1184.1 366.5L1235.1 365L1316.7 364.6" stroke="#7E2F8E" transform="translate(-0.50 0)"/><use href="#p11bx" x="1.00"/>
<path id="p11by" d="M761.1 364.5L833.1 365.1L867.6 365.9L879.6 366.7L896.1 368.8L903.6 370.2L908.1 371.6L917.1 375.6L923.1 378.8L927.6 381.8L930.6 384.2L932.1 385.8L935.1 389.9L938.1 394.6L941.1 399.8L945.6 406.5L947.1 408.3L950.1 411.2L951.6 412.3L953.1 412.6L954.6 412.1L957.6 410L959.1 408.6L962.1 404.7L966.6 399.7L968.1 398.3L971.1 396.4L974.1 395L978.6 394.2L981.6 393.7L983.1 393.2L984.6 392.2L989.1 388L992.1 384.3L993.6 382.9L996.6 380.9L998.1 380.3L999.6 380.1L1001.1 380.4L1004.1 381.5L1010.1 381.6L1011.6 381.4L1013.1 380.6L1017.6 376.8L1025.1 369.2L1028.1 366.8L1038.6 361.1L1043.1 358.3L1044.6 357.2L1046.1 355.8L1049.1 352.3L1053.6 346.2L1061.1 335.4L1065.6 329.7L1068.6 326.6L1071.6 324L1074.6 321.9L1077.6 320.3L1080.6 319.4L1083.6 318.9L1085.1 318.8L1086.6 319.1L1089.6 320.9L1091.1 321.9L1092.6 323.3L1095.6 326.6L1100.1 330.8L1101.6 331.8L1104.6 333.2L1107.6 334L1115.1 334.5L1116.6 334.9L1119.6 336.3L1122.6 338.2L1133.1 346.4L1139.1 350.3L1145.1 353.6L1151.1 356.1L1163.1 359.7L1169.1 360.8L1193.1 362.8L1226.1 363.8L1316.7 363.9" stroke="#77AC30" transform="translate(-0.50 0)"/><use href="#p11by" x="1.00"/>
<path id="p11bz" d="M761.1 363.9L836.1 362.8L879.6 361.6L897.6 361L911.1 361.4L923.1 362.6L930.6 363.8L932.1 364.4L933.6 365.4L936.6 368.3L938.1 370.1L939.6 372.3L941.1 374.8L942.6 377.5L944.1 380.8L945.6 384.5L947.1 388.5L948.6 393L951.6 402.9L954.6 413.4L956.1 418.7L957.6 424.4L959.1 429.4L960.6 432.9L962.1 435.9L963.6 438.5L965.1 440.6L966.6 442.4L972.6 448.1L978.6 454.7L981.6 458.5L984.6 462.8L986.1 464.4L989.1 467.1L990.6 467.9L992.1 468.2L999.6 467.8L1002.6 468.3L1005.6 469.4L1007.1 470.9L1010.1 475L1014.6 480.7L1016.1 482.2L1019.1 484.2L1020.6 485L1022.1 485.3L1031.1 485.2L1035.6 484.4L1038.6 484.5L1046.1 486L1049.1 486.7L1050.6 486.8L1053.6 486.4L1056.6 485.2L1058.1 483.9L1059.6 482L1061.1 479.7L1062.6 477.1L1065.6 470.8L1068.6 464L1073.1 453.4L1076.1 446.5L1077.6 442.8L1082.1 430.7L1085.1 423.2L1088.1 416.3L1091.1 409.8L1092.6 406.9L1094.1 404.5L1095.6 402.5L1097.1 400.8L1098.6 399.4L1104.6 395L1109.1 390.8L1110.6 389.1L1121.1 375L1125.6 369.5L1130.1 365.2L1131.6 364L1134.6 362.6L1139.1 361.4L1145.1 360.7L1160.1 360.8L1202.1 362.7L1236.6 363.5L1316.7 363.9" stroke="#4DBEEE" transform="translate(-0.50 0)"/><use href="#p11bz" x="1.00"/>
</g>
<g font-size="22" fill="#262626" stroke="#262626" stroke-width="0.42" text-anchor="middle">
<text x="760.5" y="518.9">-100</text>
<text x="899.4" y="518.9">-50</text>
<text x="1038.9" y="518.9">0</text>
<text x="1177.8" y="518.9">50</text>
<text x="1316.7" y="518.9">100</text>
</g>
<g font-size="22" fill="#262626" stroke="#262626" stroke-width="0.42" text-anchor="end">
<text x="753.9" y="309.2">500</text>
<text x="753.9" y="372.6">0</text>
<text x="753.9" y="435.9">-500</text>
<text x="753.9" y="498.9">-1000</text>
</g>
</g>
<g>
<path d="M1565.50 300.85V490.50M1704.40 300.85V490.50M1843.30 300.85V490.50" stroke="#262626" stroke-opacity="0.15" stroke-width="2.9" fill="none"/>
<path d="M1426.60 364.25H1982.20M1426.60 427.45H1982.20" stroke="#262626" stroke-opacity="0.15" stroke-width="2.9" fill="none"/>
<path d="M1565.50 490.50v-6.60M1565.50 300.85v6.60M1704.40 490.50v-6.60M1704.40 300.85v6.60M1843.30 490.50v-6.60M1843.30 300.85v6.60M1426.60 364.25h6.60M1982.20 364.25h-6.60M1426.60 427.45h6.60M1982.20 427.45h-6.60" stroke="#1a1a1a" stroke-width="3.0" fill="none"/>
<rect x="1426.60" y="300.85" width="555.60" height="189.65" fill="none" stroke="#1a1a1a" stroke-width="3.0"/>
<g clip-path="url(#c12)" fill="none" stroke-width="2.9" stroke-linejoin="round">
<path id="p12bxr" d="M1426.6 364.5L1489.6 365L1524.1 365.7L1567.6 367.8L1593.1 367.8L1599.1 366.9L1603.6 365.6L1608.1 363.2L1611.1 361L1620.1 352.9L1624.6 349.8L1630.6 346.4L1633.6 345.3L1642.6 343.2L1647.1 342L1653.1 341.7L1662.1 341.5L1663.6 341.2L1669.6 338.6L1671.1 338.5L1678.6 339.1L1684.6 339.4L1699.6 338.5L1707.1 337.6L1710.1 337.7L1714.6 338.4L1717.6 338.2L1720.6 337.7L1722.1 337.6L1725.1 338.2L1732.6 341.2L1740.1 345.1L1746.1 348.5L1752.1 351.4L1758.1 354.7L1771.6 360.3L1782.1 363L1792.6 366.7L1797.1 367.5L1803.1 368.1L1810.6 368L1819.6 367L1899.1 364.7L1982.2 364.3" stroke="#0072BD" transform="translate(-0.50 0)"/><use href="#p12bxr" x="1.00"/>
<path id="p12byr" d="M1426.6 364.5L1492.6 365L1519.6 365.8L1539.1 367L1552.6 368.7L1561.6 370.7L1572.1 373.8L1578.1 376.1L1584.1 377.7L1588.6 379.9L1591.6 382L1594.6 385.1L1605.1 398.2L1608.1 402.5L1611.1 406.9L1612.6 408.6L1614.1 409.9L1615.6 410.7L1617.1 411.2L1618.6 411.3L1621.6 410.4L1623.1 409.7L1624.6 408.6L1629.1 404.4L1636.6 397L1639.6 394.7L1642.6 393.3L1650.1 391.4L1663.6 386.3L1668.1 384.8L1674.1 381.7L1678.6 379.8L1680.1 378.9L1683.1 376.2L1690.6 368.3L1693.6 365.6L1704.1 358.4L1705.6 357.1L1708.6 353.4L1711.6 349.5L1714.6 346.3L1719.1 342.2L1720.6 340.6L1722.1 338.8L1726.6 332.2L1729.6 328.3L1732.6 325.2L1735.6 323L1738.6 321.7L1743.1 320.3L1747.6 320L1752.1 320.3L1755.1 321L1758.1 322.4L1765.6 326.7L1771.6 330.4L1780.6 335.2L1785.1 338.3L1791.1 343L1794.1 344.8L1804.6 349.6L1828.6 358.5L1837.6 360.1L1855.6 361.9L1870.6 362.9L1905.1 363.6L1982.2 363.9" stroke="#D95319" transform="translate(-0.50 0)"/><use href="#p12byr" x="1.00"/>
<path id="p12bzr" d="M1426.6 363.9L1498.6 363L1539.1 362L1582.6 362.1L1585.6 362.7L1588.6 363.9L1594.6 367.5L1597.6 369.7L1600.6 372.9L1602.1 374.8L1603.6 377.1L1606.6 382.3L1609.6 388.5L1612.6 395.5L1623.1 422.8L1624.6 426.4L1626.1 429.5L1630.6 437.2L1632.1 439.3L1635.1 442.9L1639.6 447.3L1647.1 453L1650.1 455.9L1657.6 464.2L1660.6 466.8L1668.1 471.8L1671.1 474.5L1678.6 482.2L1680.1 483.5L1683.1 485.2L1689.1 486.7L1690.6 487L1692.1 487L1695.1 486.7L1699.6 486.6L1705.6 486.3L1710.1 485.4L1716.1 483.1L1720.6 480.7L1723.6 478.4L1726.6 475.2L1728.1 473.1L1729.6 470.4L1731.1 467.3L1735.6 456.8L1738.6 449L1741.6 441.1L1743.1 437.5L1746.1 431L1749.1 425.3L1752.1 420L1753.6 417.7L1758.1 411.6L1764.1 402.6L1771.6 392.7L1774.6 388.7L1777.6 385.5L1783.6 380.3L1792.6 371.7L1797.1 368L1800.1 366.1L1804.6 364.3L1810.6 362.5L1818.1 362L1849.6 362.9L1932.1 363.7L1982.2 363.9" stroke="#EDB120" transform="translate(-0.50 0)"/><use href="#p12bzr" x="1.00"/>
<path id="p12bx" d="M1426.6 364.5L1489.6 365L1524.1 365.7L1567.6 367.8L1593.1 367.8L1599.1 366.9L1602.1 366.2L1605.1 365L1609.6 362.3L1612.6 359.8L1623.1 350.2L1629.1 345.9L1632.1 344.4L1642.6 341.7L1647.1 340.5L1651.6 340.3L1665.1 340.2L1683.1 338.3L1708.6 337.1L1720.6 336.9L1725.1 337.7L1731.1 339.4L1737.1 341.9L1741.6 344.2L1756.6 353.5L1762.6 356.2L1770.1 358.7L1777.6 361L1785.1 364.1L1792.6 366.5L1797.1 367L1810.6 367.3L1899.1 364.7L1982.2 364.3" stroke="#7E2F8E" transform="translate(-0.50 0)"/><use href="#p12bx" x="1.00"/>
<path id="p12by" d="M1426.6 364.5L1492.6 365L1519.6 365.7L1539.1 366.9L1552.6 368.7L1560.1 370.3L1572.1 373.8L1579.6 376.8L1585.6 379.8L1590.1 382.6L1594.6 386.2L1596.1 387.6L1597.6 389.3L1605.1 399.7L1611.1 407.5L1612.6 408.9L1615.6 410.9L1617.1 411.4L1618.6 411.4L1621.6 410.5L1623.1 409.8L1624.6 408.7L1630.6 402.9L1633.6 399.9L1636.6 397.6L1639.6 395.9L1648.6 393L1657.6 389L1663.6 387L1672.6 384.7L1675.6 383.6L1677.1 382.6L1680.1 379.3L1687.6 370.6L1690.6 366.9L1692.1 365.2L1695.1 362.8L1699.6 360.1L1704.1 357.9L1707.1 355.7L1710.1 352.9L1713.1 349.6L1722.1 338.8L1726.6 332.7L1729.6 329.4L1732.6 326.6L1737.1 323.4L1741.6 320.8L1743.1 320.1L1747.6 319L1750.6 318.8L1752.1 319.1L1755.1 320.4L1756.6 321.2L1761.1 325.2L1765.6 328.4L1768.6 329.9L1780.6 334.2L1783.6 335.7L1788.1 338.8L1794.1 343.8L1800.1 347.7L1806.1 351L1812.1 353.7L1819.6 356.2L1830.1 358.9L1839.1 360.3L1861.6 362.4L1876.6 363.1L1920.1 363.7L1982.2 363.9" stroke="#77AC30" transform="translate(-0.50 0)"/><use href="#p12by" x="1.00"/>
<path id="p12bz" d="M1426.6 363.9L1498.6 363L1539.1 362L1582.6 362L1585.6 362.6L1588.6 363.9L1594.6 367.5L1597.6 369.6L1600.6 372.8L1602.1 374.7L1603.6 376.9L1606.6 382.3L1608.1 385.2L1611.1 391.8L1612.6 395.4L1621.6 418.9L1624.6 426.6L1626.1 429.8L1627.6 432.3L1629.1 434.4L1632.1 438L1653.1 458.8L1660.6 465.4L1666.6 469.7L1668.1 471L1671.1 474.3L1674.1 478L1677.1 482.4L1678.6 484.3L1681.6 487L1683.1 488L1684.6 488.6L1690.6 488.7L1692.1 488.1L1695.1 486.5L1699.6 485.2L1704.1 484.6L1710.1 484.3L1713.1 483.6L1717.6 481.4L1720.6 479.3L1722.1 478L1725.1 474.7L1728.1 470.6L1731.1 465.6L1734.1 460.1L1737.1 454.1L1740.1 447.6L1749.1 426.3L1752.1 419.9L1755.1 414L1758.1 409L1759.6 406.8L1761.1 404.8L1764.1 401.6L1771.6 394.3L1776.1 389.2L1789.6 373.4L1794.1 368.6L1797.1 366.2L1800.1 364.4L1803.1 363.4L1809.1 362.5L1818.1 362L1848.1 362.9L1926.1 363.7L1982.2 363.9" stroke="#4DBEEE" transform="translate(-0.50 0)"/><use href="#p12bz" x="1.00"/>
</g>
<g font-size="22" fill="#262626" stroke="#262626" stroke-width="0.42" text-anchor="middle">
<text x="1426.0" y="518.9">-100</text>
<text x="1564.9" y="518.9">-50</text>
<text x="1704.4" y="518.9">0</text>
<text x="1843.3" y="518.9">50</text>
<text x="1982.2" y="518.9">100</text>
</g>
<g font-size="22" fill="#262626" stroke="#262626" stroke-width="0.42" text-anchor="end">
<text x="1419.4" y="309.2">500</text>
<text x="1419.4" y="372.6">0</text>
<text x="1419.4" y="435.9">-500</text>
<text x="1419.4" y="498.9">-1000</text>
</g>
</g>
<g>
<path d="M234.80 546.60V736.10M373.70 546.60V736.10M512.60 546.60V736.10" stroke="#262626" stroke-opacity="0.15" stroke-width="2.9" fill="none"/>
<path d="M95.90 610.00H651.50M95.90 673.20H651.50" stroke="#262626" stroke-opacity="0.15" stroke-width="2.9" fill="none"/>
<path d="M234.80 736.10v-6.60M234.80 546.60v6.60M373.70 736.10v-6.60M373.70 546.60v6.60M512.60 736.10v-6.60M512.60 546.60v6.60M95.90 610.00h6.60M651.50 610.00h-6.60M95.90 673.20h6.60M651.50 673.20h-6.60" stroke="#1a1a1a" stroke-width="3.0" fill="none"/>
<rect x="95.90" y="546.60" width="555.60" height="189.50" fill="none" stroke="#1a1a1a" stroke-width="3.0"/>
<g clip-path="url(#c20)" fill="none" stroke-width="2.9" stroke-linejoin="round">
<path id="p20bxr" d="M95.9 608.6L136.4 608L178.4 606.7L226.4 603.9L239.9 602.9L256.4 602.9L259.4 603.4L265.4 605.5L269.9 607.8L277.4 612.9L283.4 617.6L286.4 619.4L293.9 625.4L301.4 630.2L307.4 632.8L310.4 634.8L316.4 639.2L319.4 642.1L322.4 645.2L329.9 652L337.4 657.2L338.9 658L340.4 658.5L344.9 659.2L347.9 659.7L349.4 659.6L355.4 657.7L365.9 653.6L374.9 649.7L379.4 647.2L386.9 641.9L392.9 637.1L394.4 635.8L400.4 629L410.9 619.1L413.9 616.5L419.9 612.5L428.9 606.5L436.4 600.1L437.9 598.7L439.4 596.9L440.9 594.9L443.9 590.1L446.9 584.6L449.9 578.6L454.4 568.7L455.9 565.9L457.4 563.7L458.9 562.1L461.9 560.2L463.4 559.7L466.4 559.2L469.4 559.3L470.9 559.7L472.4 560.5L473.9 561.4L475.4 562.8L476.9 564.6L479.9 569L484.4 574.1L490.4 580.3L494.9 584.2L500.9 588.4L506.9 591.8L512.9 594.5L521.9 597.6L535.4 601.2L548.9 603.7L565.4 605.7L581.9 607L611.9 608.1L651.5 608.7" stroke="#0072BD" transform="translate(-0.50 0)"/><use href="#p20bxr" x="1.00"/>
<path id="p20byr" d="M95.9 609.1L188.9 608.7L226.4 607.8L263.9 604.9L281.9 605.5L284.9 606L289.4 607.5L296.9 611.2L305.9 615.9L314.9 620.6L320.9 624.6L325.4 628.1L329.9 632.6L335.9 639.5L344.9 650.9L347.9 654.2L352.4 658.2L358.4 662.7L370.4 670.5L374.9 672.6L397.4 679.8L401.9 680.7L407.9 681.2L413.9 680.8L421.4 679.7L427.4 678.6L431.9 678.1L436.4 677L439.4 675.9L443.9 673.3L446.9 670.9L448.4 669.3L449.9 667.4L452.9 662.8L461.9 648.6L464.9 643.2L467.9 638.3L470.9 633.9L473.9 630.1L476.9 626.8L479.9 624.1L484.4 620.8L488.9 618.5L496.4 615.9L505.4 613.7L512.9 612.5L529.4 611.1L556.4 610.1L601.4 609.4L651.5 609.1" stroke="#D95319" transform="translate(-0.50 0)"/><use href="#p20byr" x="1.00"/>
<path id="p20bzr" d="M95.9 609.1L136.4 608.5L185.9 606.8L206.9 605.4L218.9 603.7L227.9 601.7L238.4 598.5L247.4 595.1L262.4 588.9L269.9 586.3L274.4 585.2L281.9 584.3L286.4 584.4L295.4 585.4L298.4 586L299.9 586.5L301.4 587.3L307.4 591.8L308.9 592.6L317.9 595.5L319.4 596.3L320.9 597.5L322.4 599.2L323.9 601.2L326.9 605.8L329.9 609.7L332.9 613.3L335.9 617.5L340.4 624.6L344.9 632.3L347.9 638.2L353.9 651.6L355.4 654.7L356.9 657.5L359.9 662.3L365.9 670.7L376.4 684.3L380.9 689.6L383.9 692.5L389.9 697.3L394.4 700.4L398.9 702.9L403.4 704.5L407.9 705.4L410.9 705.6L415.4 704.6L419.9 704.6L425.9 703.5L433.4 703.1L443.9 703.7L445.4 703.5L446.9 703.1L448.4 702.3L452.9 699L454.4 697.7L455.9 695.7L457.4 692.3L458.9 687.1L460.4 681.4L461.9 676.2L464.9 667.2L467.9 658.7L472.4 647.2L475.4 640.4L478.4 634.4L479.9 632.1L482.9 628.4L485.9 625.6L491.9 620.9L496.4 618.1L500.9 615.9L506.9 614L515.9 612.4L529.4 610.8L547.4 609.6L587.9 609.1L651.5 609.1" stroke="#EDB120" transform="translate(-0.50 0)"/><use href="#p20bzr" x="1.00"/>
<path id="p20bx" d="M95.9 608.6L136.4 608L178.4 606.7L226.4 603.9L239.9 602.9L256.4 602.9L259.4 603.4L265.4 605.5L268.4 606.9L274.4 610.8L278.9 614.1L286.4 620.4L292.4 626.1L295.4 628.2L299.9 630.7L302.9 631.6L308.9 632.6L311.9 633.6L314.9 635.4L317.9 637.7L319.4 639.3L329.9 653.5L331.4 655.2L335.9 658.8L337.4 659.8L338.9 660.4L341.9 660.5L349.4 659.6L355.4 657.7L364.4 654.2L374.9 649.7L379.4 647.2L388.4 640.8L397.4 633.3L436.4 598.1L440.9 593.6L443.9 590L446.9 585.2L451.4 577.2L454.4 570.9L455.9 567.9L457.4 565.5L460.4 562.3L461.9 560.9L463.4 559.8L464.9 559.2L466.4 559.1L469.4 560L473.9 562.3L475.4 563.6L478.4 567.1L481.4 570.9L488.9 578.9L493.4 583L499.4 587.5L505.4 591L511.4 593.9L520.4 597.2L533.9 600.8L545.9 603.2L560.9 605.3L577.4 606.8L605.9 607.9L649.4 608.7L651.5 608.7" stroke="#7E2F8E" transform="translate(-0.50 0)"/><use href="#p20bx" x="1.00"/>
<path id="p20by" d="M95.9 609.1L188.9 608.7L226.4 607.9L266.9 604.7L277.4 604.4L283.4 604.8L286.4 605.7L290.9 607.8L299.9 613.5L308.9 619L317.9 623.2L322.4 626.2L323.9 627.5L326.9 630.7L331.4 636.2L335.9 641.8L340.4 647L346.4 652.9L352.4 658.2L358.4 662.7L368.9 669.6L374.9 673L380.9 675.7L388.4 678.1L395.9 679.8L407.9 680.3L425.9 680.1L431.9 679.6L437.9 678.1L442.4 676L445.4 674L448.4 671.5L449.9 669.7L451.4 667.5L455.9 659.9L464.9 643.1L467.9 638.2L470.9 633.9L475.4 628.4L478.4 625.4L481.4 622.9L485.9 619.9L490.4 617.9L497.9 615.4L508.4 613.1L518.9 611.9L539.9 610.6L583.4 609.6L651.5 609.1" stroke="#77AC30" transform="translate(-0.50 0)"/><use href="#p20by" x="1.00"/>
<path id="p20bz" d="M95.9 609.1L136.4 608.5L185.9 606.8L206.9 605.4L218.9 603.7L227.9 601.7L238.4 598.5L247.4 595.1L265.4 587.3L271.4 584.9L275.9 583.7L281.9 582.7L284.9 582.5L287.9 582.9L292.4 584.3L295.4 585.6L298.4 587.7L305.9 593.4L307.4 594.4L308.9 595.1L313.4 595.6L319.4 596.2L320.9 596.8L322.4 597.8L325.4 600.5L326.9 602.1L328.4 604.1L329.9 606.6L337.4 621.3L341.9 630.4L349.4 644.4L355.4 655.2L358.4 659.9L362.9 666.1L370.4 675.5L376.4 682.2L382.4 688.2L388.4 693.3L394.4 697.8L400.4 701.5L404.9 703.6L415.4 707.2L418.4 707.9L421.4 708L425.9 707.1L431.9 705.4L437.9 703L442.4 702.3L446.9 701.7L448.4 701L449.9 699.7L452.9 696.3L454.4 693.8L455.9 690.6L457.4 687.1L458.9 683.4L460.4 679L467.9 655.5L469.4 651.5L470.9 647.9L472.4 644.7L473.9 641.6L475.4 638.9L478.4 634.1L481.4 630.1L484.4 626.9L490.4 622L494.9 618.9L499.4 616.5L503.9 614.8L511.4 613.1L524.9 611.2L544.4 609.7L577.4 609.2L651.5 609.1" stroke="#4DBEEE" transform="translate(-0.50 0)"/><use href="#p20bz" x="1.00"/>
</g>
<g font-size="22" fill="#262626" stroke="#262626" stroke-width="0.42" text-anchor="middle">
<text x="95.3" y="764.5">-100</text>
<text x="234.2" y="764.5">-50</text>
<text x="373.7" y="764.5">0</text>
<text x="512.6" y="764.5">50</text>
<text x="651.5" y="764.5">100</text>
</g>
<g font-size="22" fill="#262626" stroke="#262626" stroke-width="0.42" text-anchor="end">
<text x="88.7" y="555.0">500</text>
<text x="88.7" y="618.4">0</text>
<text x="88.7" y="681.6">-500</text>
<text x="88.7" y="744.5">-1000</text>
</g>
<text transform="translate(25.2,642.4) rotate(-90)" font-size="22" fill="#262626" stroke="#262626" stroke-width="0.42" text-anchor="middle">S</text>
</g>
<g>
<path d="M900.00 546.60V736.10M1038.90 546.60V736.10M1177.80 546.60V736.10" stroke="#262626" stroke-opacity="0.15" stroke-width="2.9" fill="none"/>
<path d="M761.10 549.00H1316.70M761.10 606.30H1316.70M761.10 663.60H1316.70M761.10 720.90H1316.70" stroke="#262626" stroke-opacity="0.15" stroke-width="2.9" fill="none"/>
<path d="M900.00 736.10v-6.60M900.00 546.60v6.60M1038.90 736.10v-6.60M1038.90 546.60v6.60M1177.80 736.10v-6.60M1177.80 546.60v6.60M761.10 549.00h6.60M1316.70 549.00h-6.60M761.10 606.30h6.60M1316.70 606.30h-6.60M761.10 663.60h6.60M1316.70 663.60h-6.60M761.10 720.90h6.60M1316.70 720.90h-6.60" stroke="#1a1a1a" stroke-width="3.0" fill="none"/>
<rect x="761.10" y="546.60" width="555.60" height="189.50" fill="none" stroke="#1a1a1a" stroke-width="3.0"/>
<g clip-path="url(#c21)" fill="none" stroke-width="2.9" stroke-linejoin="round">
<path id="p21bxr" d="M761.1 605.3L843.6 602.7L873.6 601.2L908.1 598.2L917.1 598.3L924.6 599L929.1 600.2L933.6 601.9L936.6 603.6L942.6 607.9L947.1 611.7L948.6 612.8L951.6 614.6L954.6 617L959.1 621.7L963.6 627.6L965.1 629.1L966.6 630.2L971.1 632.8L974.1 634.7L977.1 635.8L978.6 636.3L980.1 637.3L981.6 638.9L984.6 642.8L990.6 649.1L993.6 652.6L995.1 654.2L1001.1 657.8L1002.6 658L1007.1 657.9L1010.1 657.8L1019.1 654.5L1025.1 652.9L1032.6 649.7L1040.1 647.3L1043.1 645.7L1046.1 643.4L1050.6 639.1L1056.6 633.3L1064.1 626.9L1067.1 623.7L1071.6 618L1074.6 614.9L1077.6 612.4L1080.6 610.8L1086.6 608L1089.6 605.7L1095.6 600.1L1100.1 596.7L1103.1 593.9L1106.1 590.5L1107.6 588.5L1109.1 586L1110.6 582.8L1112.1 579.1L1116.6 568.6L1119.6 561.5L1121.1 558.3L1122.6 555.5L1124.1 553L1125.6 551L1127.1 549.5L1128.6 548.3L1130.1 547.6L1131.6 547.4L1133.1 547.8L1134.6 548.9L1137.6 551.9L1140.6 555.5L1149.6 568L1152.6 571.7L1158.6 578.1L1163.1 582.2L1167.6 585.6L1172.1 588.2L1181.1 592L1190.1 595.1L1202.1 598.3L1214.1 600.4L1235.1 603.1L1250.1 604.1L1284.6 605.2L1316.7 605.7" stroke="#0072BD" transform="translate(-0.50 0)"/><use href="#p21bxr" x="1.00"/>
<path id="p21byr" d="M761.1 606.3L996.6 606.1L1001.1 605.2L1004.1 605.5L1008.6 606.1L1023.6 606.7L1034.1 605.9L1049.1 605.8L1052.1 606.1L1058.1 607.6L1061.1 607.7L1076.1 606.3L1080.6 605.9L1089.6 606L1101.6 605.7L1110.6 605.7L1118.1 605.7L1125.6 606L1130.1 606.9L1137.6 606.8L1155.6 606.3L1316.7 606.3" stroke="#D95319" transform="translate(-0.50 0)"/><use href="#p21byr" x="1.00"/>
<path id="p21bzr" d="M761.1 605.7L810.6 605.2L840.6 604.4L864.6 602.7L879.6 601L891.6 598.9L902.1 596L911.1 592.8L932.1 583.3L936.6 581.5L941.1 580.5L948.6 580.5L953.1 581.1L956.1 582.1L959.1 583.9L962.1 585.8L965.1 586.5L966.6 587.5L974.1 596.8L975.6 598.2L977.1 599.3L983.1 602.2L984.6 603.3L986.1 605.7L987.6 609.4L989.1 611.8L990.6 614.6L992.1 617.9L993.6 621.5L995.1 624.5L998.1 629.9L999.6 632.8L1001.1 635.4L1002.6 637.7L1004.1 640.4L1005.6 644.1L1007.1 648.7L1010.1 658.9L1011.6 663.6L1013.1 667.6L1014.6 671.1L1017.6 677.2L1022.1 685.3L1026.6 692.6L1029.6 696.9L1035.6 704.1L1038.6 708.2L1043.1 714.5L1046.1 718.2L1047.6 719.9L1053.6 724.9L1056.6 728.4L1058.1 730.3L1059.6 731.8L1061.1 733L1062.6 733.8L1064.1 734.4L1067.1 734.7L1071.6 734.6L1076.1 734.2L1083.6 734.7L1086.6 734.5L1089.6 732.7L1091.1 732.3L1100.1 731.8L1104.6 731.8L1107.6 732.5L1109.1 732.7L1110.6 732.5L1112.1 732L1113.6 730.8L1116.6 727.2L1118.1 725.1L1119.6 722.1L1121.1 717.6L1122.6 711.6L1124.1 704.6L1127.1 689.5L1128.6 682.4L1131.6 669.1L1133.1 662.8L1134.6 657.1L1136.1 652L1137.6 647.3L1139.1 643.1L1140.6 639.4L1142.1 636.2L1143.6 633.4L1145.1 630.9L1146.6 628.6L1149.6 624.9L1154.1 620.2L1158.6 616.1L1163.1 612.8L1167.6 610.5L1173.6 608.7L1179.6 607.7L1193.1 606.7L1233.6 606.3L1316.7 606.3" stroke="#EDB120" transform="translate(-0.50 0)"/><use href="#p21bzr" x="1.00"/>
<path id="p21bx" d="M761.1 605.3L845.1 602.6L873.6 601.2L908.1 598.2L917.1 598.3L924.6 599L929.1 600.2L933.6 601.9L936.6 603.5L942.6 607.9L947.1 611.7L953.1 617.6L962.1 627.9L963.6 629.5L965.1 630.4L969.6 631.7L972.6 632L978.6 631.4L980.1 632L981.6 633.3L984.6 636.7L986.1 638.8L989.1 643.9L993.6 652L995.1 654.8L996.6 657.1L998.1 658.6L999.6 659.8L1001.1 660.7L1002.6 660.9L1004.1 660.6L1010.1 658L1017.6 654L1023.6 652.1L1035.6 648.7L1038.6 647.4L1043.1 644.6L1049.1 640.1L1055.1 634.6L1059.6 629.8L1070.1 617.6L1071.6 616.2L1074.6 614.1L1080.6 610.7L1085.1 608.6L1086.6 607.8L1088.1 606.7L1091.1 603.7L1095.6 598.9L1106.1 588.3L1107.6 586.6L1109.1 584.7L1110.6 582.3L1112.1 579.2L1116.6 568.6L1119.6 561.3L1121.1 558.2L1124.1 552.9L1125.6 550.8L1127.1 549.4L1128.6 548.3L1130.1 547.4L1131.6 547.1L1133.1 547.6L1136.1 550.3L1137.6 551.8L1140.6 555.5L1146.6 563.7L1149.6 568L1152.6 571.7L1158.6 578.1L1163.1 582.3L1167.6 585.6L1172.1 588.2L1181.1 592L1190.1 595.1L1202.1 598.3L1214.1 600.5L1235.1 603.1L1250.1 604.1L1284.6 605.2L1316.7 605.7" stroke="#7E2F8E" transform="translate(-0.50 0)"/><use href="#p21bx" x="1.00"/>
<path id="p21by" d="M761.1 606.3L996.6 606.2L1031.1 605.3L1043.1 606.5L1052.1 607.9L1056.6 609L1059.6 609.1L1064.1 608.2L1079.1 604.2L1083.6 603.8L1094.1 604.5L1104.6 605.9L1112.1 606.7L1128.6 607L1154.1 606.3L1316.7 606.3" stroke="#77AC30" transform="translate(-0.50 0)"/><use href="#p21by" x="1.00"/>
<path id="p21bz" d="M761.1 605.7L810.6 605.2L840.6 604.4L864.6 602.7L879.6 601L891.6 598.9L902.1 596L911.1 592.8L924.6 586.6L935.1 581L939.6 579.3L945.6 577.9L948.6 577.8L951.6 578.4L956.1 580.3L957.6 581.4L960.6 584.6L963.6 588.1L966.6 592.4L969.6 596.7L974.1 601.5L975.6 602.6L978.6 603.1L984.6 603.5L986.1 604.2L987.6 605.3L989.1 606.8L990.6 608.7L992.1 611.8L995.1 619.8L996.6 623.9L1001.1 637.7L1004.1 645.9L1007.1 653.7L1010.1 661L1011.6 664.4L1013.1 667.5L1016.1 673L1020.6 680.5L1038.6 707.5L1043.1 714.2L1047.6 720L1055.1 728.6L1056.6 730.1L1058.1 731.2L1061.1 732.8L1062.6 733.4L1064.1 733.6L1067.1 733L1071.6 731.5L1074.6 730.4L1076.1 730.4L1079.1 731.4L1083.6 733.4L1086.6 735L1088.1 735.4L1091.1 735.3L1098.6 733.5L1103.1 731.9L1110.6 730.6L1112.1 730.1L1113.6 728.6L1115.1 726.2L1116.6 723.3L1118.1 719.9L1119.6 715.4L1121.1 710L1124.1 698.7L1128.6 680.5L1131.6 667.9L1133.1 661.9L1134.6 656.6L1136.1 651.7L1137.6 647.2L1139.1 643L1140.6 639.3L1142.1 636.1L1143.6 633.3L1145.1 630.8L1146.6 628.5L1148.1 626.6L1152.6 621.6L1157.1 617.4L1161.6 613.8L1166.1 611.1L1172.1 609L1176.6 608.1L1190.1 606.9L1221.6 606.3L1316.7 606.3" stroke="#4DBEEE" transform="translate(-0.50 0)"/><use href="#p21bz" x="1.00"/>
</g>
<g font-size="22" fill="#262626" stroke="#262626" stroke-width="0.42" text-anchor="middle">
<text x="760.5" y="764.5">-100</text>
<text x="899.4" y="764.5">-50</text>
<text x="1038.9" y="764.5">0</text>
<text x="1177.8" y="764.5">50</text>
<text x="1316.7" y="764.5">100</text>
</g>
<g font-size="22" fill="#262626" stroke="#262626" stroke-width="0.42" text-anchor="end">
<text x="753.9" y="557.4">500</text>
<text x="753.9" y="614.7">0</text>
<text x="753.9" y="672.0">-500</text>
<text x="753.9" y="729.3">-1000</text>
</g>
</g>
<g>
<path d="M1565.50 546.60V736.10M1704.40 546.60V736.10M1843.30 546.60V736.10" stroke="#262626" stroke-opacity="0.15" stroke-width="2.9" fill="none"/>
<path d="M1426.60 553.80H1982.20M1426.60 614.60H1982.20M1426.60 675.40H1982.20" stroke="#262626" stroke-opacity="0.15" stroke-width="2.9" fill="none"/>
<path d="M1565.50 736.10v-6.60M1565.50 546.60v6.60M1704.40 736.10v-6.60M1704.40 546.60v6.60M1843.30 736.10v-6.60M1843.30 546.60v6.60M1426.60 553.80h6.60M1982.20 553.80h-6.60M1426.60 614.60h6.60M1982.20 614.60h-6.60M1426.60 675.40h6.60M1982.20 675.40h-6.60" stroke="#1a1a1a" stroke-width="3.0" fill="none"/>
<rect x="1426.60" y="546.60" width="555.60" height="189.50" fill="none" stroke="#1a1a1a" stroke-width="3.0"/>
<g clip-path="url(#c22)" fill="none" stroke-width="2.9" stroke-linejoin="round">
<path id="p22bxr" d="M1426.6 614.2L1518.1 611.2L1546.6 609.7L1576.6 607.6L1584.1 607.9L1590.1 608.7L1594.6 610.1L1602.1 613.6L1608.1 617.3L1612.6 621L1617.1 625.1L1620.1 627L1624.6 630.7L1629.1 633.5L1636.6 637.9L1644.1 643.3L1650.1 648.5L1656.1 653L1660.6 655.7L1665.1 659.2L1668.1 661L1671.1 662L1675.6 662.1L1683.1 660.9L1695.1 657.6L1698.1 656.7L1702.6 654.6L1710.1 650.6L1714.6 648.2L1717.6 646.3L1720.6 643.7L1725.1 638.9L1731.1 631.5L1737.1 625.8L1741.6 621.1L1744.6 618.6L1752.1 613.6L1761.1 609.1L1764.1 606.7L1768.6 602.1L1771.6 598.5L1774.6 594.4L1777.6 589.4L1782.1 581.3L1786.6 573.9L1788.1 571.7L1789.6 570L1792.6 567.3L1794.1 566.3L1795.6 565.7L1797.1 565.6L1798.6 565.9L1801.6 567.5L1804.6 569.7L1807.6 572.6L1813.6 578.9L1824.1 589L1828.6 592.7L1833.1 595.6L1839.1 598.6L1849.6 602.9L1857.1 605.1L1867.6 607.4L1882.6 609.7L1903.6 611.7L1929.1 612.7L1977.1 613.9L1982.2 613.9" stroke="#0072BD" transform="translate(-0.50 0)"/><use href="#p22bxr" x="1.00"/>
<path id="p22byr" d="M1426.6 614.8L1503.1 614.9L1558.6 617L1576.6 618.5L1585.6 619.7L1594.6 619.1L1603.6 620L1609.6 619.4L1617.1 617.3L1626.1 614.2L1636.6 609.8L1641.1 606.8L1647.1 602.2L1656.1 593.8L1660.6 590L1663.6 586.7L1671.1 578.5L1675.6 573.5L1678.6 569.9L1680.1 568.3L1681.6 567L1684.6 565.2L1690.6 562.5L1701.1 557.1L1710.1 552.9L1716.1 551L1728.1 547.6L1731.1 547.2L1743.1 547.2L1750.6 548.3L1761.1 550.3L1768.6 550.7L1774.6 552L1777.6 553.2L1779.1 554.1L1780.6 555.3L1782.1 557L1783.6 559.2L1785.1 561.7L1786.6 564.6L1791.1 574.1L1795.6 582.5L1798.6 587.5L1801.6 592L1804.6 595.9L1807.6 599.1L1810.6 601.6L1815.1 604.5L1819.6 606.5L1833.1 610.7L1840.6 612.2L1854.1 613.1L1893.1 613.8L1982.2 614.3" stroke="#D95319" transform="translate(-0.50 0)"/><use href="#p22byr" x="1.00"/>
<path id="p22bzr" d="M1426.6 614.3L1476.1 613.7L1507.6 612.9L1530.1 611.4L1540.6 610.2L1555.6 607.5L1566.1 604.8L1575.1 601.8L1590.1 595.5L1603.6 591.6L1608.1 591L1615.6 590.9L1621.6 591.6L1627.6 592.5L1630.6 592.4L1632.1 592.7L1648.6 600.8L1650.1 601.9L1651.6 603.3L1653.1 605.5L1656.1 611.2L1657.6 613.4L1660.6 616.7L1663.6 620L1666.6 624.4L1677.1 642L1684.6 656L1690.6 666.2L1695.1 673.3L1698.1 677.4L1702.6 682.4L1710.1 690.2L1714.6 694.2L1717.6 696.3L1719.1 697.6L1723.6 702.3L1725.1 703.6L1726.6 704.6L1728.1 705.3L1732.6 706.4L1738.6 706.9L1741.6 706.6L1753.6 703.8L1758.1 702.5L1759.6 702.3L1762.6 702.7L1765.6 703.5L1770.1 705.4L1771.6 705.7L1773.1 705.7L1774.6 705.5L1776.1 705L1777.6 704.1L1779.1 702.9L1780.6 701.3L1782.1 698.9L1783.6 695.8L1785.1 692.1L1788.1 683.7L1791.1 674.6L1792.6 670.3L1795.6 662.3L1797.1 658.6L1798.6 655.2L1800.1 652L1803.1 646.4L1806.1 641.4L1809.1 637.1L1812.1 633.3L1815.1 630.1L1819.6 626L1824.1 622.7L1828.6 620.1L1833.1 618.1L1837.6 616.9L1846.6 615.7L1860.1 614.9L1902.1 614.5L1982.2 614.5" stroke="#EDB120" transform="translate(-0.50 0)"/><use href="#p22bzr" x="1.00"/>
<path id="p22bx" d="M1426.6 614.3L1519.6 611.1L1546.6 609.7L1576.6 607.6L1584.1 607.9L1590.1 608.7L1594.6 610.1L1602.1 613.6L1608.1 617.3L1611.1 619.6L1624.6 632.2L1626.1 633.2L1630.6 635L1641.1 638.8L1644.1 640.4L1645.6 641.7L1651.6 648.2L1656.1 653.6L1657.6 655.2L1662.1 659L1663.6 660.1L1665.1 660.9L1669.6 661.9L1674.1 662.2L1678.6 661.8L1684.6 660.5L1693.6 657.9L1701.1 655.9L1707.1 653.7L1711.6 651.4L1716.1 647.9L1719.1 645.2L1723.6 640.1L1726.6 636.2L1731.1 629.7L1732.6 627.8L1737.1 623.5L1740.1 621.2L1744.6 618.7L1750.6 615.8L1758.1 611.4L1762.6 608L1767.1 603.8L1770.1 600.4L1773.1 596.6L1776.1 592.1L1782.1 581.3L1786.6 573.8L1788.1 571.6L1789.6 569.8L1792.6 567.2L1794.1 566.2L1795.6 565.5L1797.1 565.4L1798.6 565.8L1801.6 567.5L1804.6 569.6L1807.6 572.5L1812.1 577.5L1824.1 589.1L1828.6 592.8L1833.1 595.6L1839.1 598.6L1849.6 602.9L1857.1 605.2L1867.6 607.4L1882.6 609.7L1903.6 611.7L1929.1 612.7L1977.1 613.9L1982.2 613.9" stroke="#7E2F8E" transform="translate(-0.50 0)"/><use href="#p22bx" x="1.00"/>
<path id="p22by" d="M1426.6 614.8L1503.1 614.9L1558.6 617L1576.6 618.5L1588.6 619.9L1611.1 619.8L1617.1 618.5L1620.1 617.4L1626.1 614.2L1632.1 610.4L1644.1 604.3L1648.6 601.7L1651.6 599.5L1654.6 596.7L1662.1 588.5L1666.6 583.4L1677.1 572.8L1680.1 569.8L1683.1 567.3L1690.6 562.5L1699.6 557.6L1713.1 550.8L1720.6 548.2L1726.6 547.2L1731.1 547.2L1738.6 548.2L1758.1 548.8L1765.6 549.6L1770.1 550.8L1774.6 552.7L1777.6 554.7L1780.6 557.4L1782.1 559L1785.1 563.2L1786.6 565.6L1789.6 571.1L1792.6 576.6L1797.1 584.1L1800.1 588.5L1804.6 594.5L1807.6 597.6L1812.1 601.2L1818.1 604.7L1825.6 608.3L1831.6 610.4L1839.1 612L1849.6 612.9L1875.1 613.6L1968.1 614.3L1982.2 614.3" stroke="#77AC30" transform="translate(-0.50 0)"/><use href="#p22by" x="1.00"/>
<path id="p22bz" d="M1426.6 614.3L1476.1 613.7L1507.6 612.9L1530.1 611.4L1540.6 610.3L1555.6 607.5L1566.1 604.8L1575.1 601.8L1594.6 593.7L1602.1 590.9L1611.1 588.9L1615.6 588.6L1620.1 589.4L1623.1 590.3L1626.1 591.7L1633.6 596.1L1639.6 599.3L1642.6 600.3L1648.6 601.7L1650.1 602.4L1651.6 603.4L1654.6 606.2L1657.6 609.6L1659.1 611.8L1662.1 616.9L1665.1 622.3L1671.1 634.6L1674.1 639.9L1681.6 651.7L1687.6 660.6L1705.6 685.4L1710.1 691.5L1714.6 696.7L1720.6 703.3L1722.1 704.8L1723.6 705.7L1726.6 707.1L1728.1 707.4L1731.1 707.4L1738.6 705.7L1743.1 704.4L1753.6 703.8L1767.1 703.3L1774.6 704.3L1776.1 704L1777.6 703.2L1780.6 700.7L1782.1 698.5L1783.6 695.5L1786.6 688.2L1788.1 683.9L1791.1 674.4L1794.1 666.2L1797.1 658.5L1798.6 655.1L1801.6 649L1804.6 643.8L1807.6 639.2L1810.6 635.1L1813.6 631.5L1818.1 627.3L1822.6 623.7L1827.1 620.9L1833.1 618.1L1837.6 616.9L1846.6 615.7L1860.1 614.9L1902.1 614.5L1982.2 614.5" stroke="#4DBEEE" transform="translate(-0.50 0)"/><use href="#p22bz" x="1.00"/>
</g>
<g font-size="22" fill="#262626" stroke="#262626" stroke-width="0.42" text-anchor="middle">
<text x="1426.0" y="764.5">-100</text>
<text x="1564.9" y="764.5">-50</text>
<text x="1704.4" y="764.5">0</text>
<text x="1843.3" y="764.5">50</text>
<text x="1982.2" y="764.5">100</text>
</g>
<g font-size="22" fill="#262626" stroke="#262626" stroke-width="0.42" text-anchor="end">
<text x="1419.4" y="562.2">500</text>
<text x="1419.4" y="623.0">0</text>
<text x="1419.4" y="683.8">-500</text>
<text x="1419.4" y="744.5">-1000</text>
</g>
</g>
<g>
<path d="M234.80 792.10V981.75M373.70 792.10V981.75M512.60 792.10V981.75" stroke="#262626" stroke-opacity="0.15" stroke-width="2.9" fill="none"/>
<path d="M95.90 824.50H651.50M95.90 903.10H651.50" stroke="#262626" stroke-opacity="0.15" stroke-width="2.9" fill="none"/>
<path d="M234.80 981.75v-6.60M234.80 792.10v6.60M373.70 981.75v-6.60M373.70 792.10v6.60M512.60 981.75v-6.60M512.60 792.10v6.60M95.90 824.50h6.60M651.50 824.50h-6.60M95.90 903.10h6.60M651.50 903.10h-6.60" stroke="#1a1a1a" stroke-width="3.0" fill="none"/>
<rect x="95.90" y="792.10" width="555.60" height="189.65" fill="none" stroke="#1a1a1a" stroke-width="3.0"/>
<g clip-path="url(#c30)" fill="none" stroke-width="2.9" stroke-linejoin="round">
<path id="p30bxr" d="M95.9 824.5L145.4 825L185.9 826L209.9 827.4L224.9 829.1L235.4 831L244.4 833.4L251.9 836.2L257.9 839.2L262.4 842.1L266.9 845.9L271.4 850.5L274.4 854.2L277.4 858.5L280.4 863.4L281.9 866.2L284.9 872.6L292.4 889L296.9 898.2L299.9 904L302.9 909.3L305.9 913.8L308.9 917.9L313.4 922.6L323.9 932.8L328.4 936.7L332.9 939.6L343.4 946.3L347.9 949L352.4 950.8L356.9 951.9L367.4 952.6L371.9 953.4L374.9 953.4L379.4 952.4L383.9 950.8L388.4 948.9L391.4 947.7L392.9 946.7L395.9 944L398.9 940.4L400.4 938.2L403.4 933.4L407.9 927.1L412.4 920.1L415.4 914.6L421.4 903.4L428.9 890.4L433.4 883L436.4 878.6L451.4 860.1L458.9 851.7L463.4 847.1L467.9 843.2L476.9 836.8L481.4 834.4L487.4 832.1L496.4 829.8L505.4 828.2L520.4 826.9L550.4 825.8L595.4 825L651.5 824.7" stroke="#0072BD" transform="translate(-0.50 0)"/><use href="#p30bxr" x="1.00"/>
<path id="p30byr" d="M95.9 824.5L175.4 824L205.4 823.1L217.4 822L229.4 820.3L242.9 817.3L250.4 815.1L256.4 812.5L262.4 809.1L268.4 805L271.4 802.6L275.9 798.1L278.9 795.8L284.9 792.5L286.4 792L287.9 791.9L289.4 792.1L290.9 792.6L293.9 794.4L299.9 799.5L302.9 801.4L305.9 802.6L308.9 803.2L319.4 803.3L322.4 803.8L328.4 806.3L332.9 807.4L338.9 808.4L343.4 808.7L344.9 809.1L346.4 809.8L349.4 811.7L353.9 813.4L355.4 814.5L361.4 819.8L364.4 822L368.9 824.8L376.4 830.4L383.9 834.8L388.4 838.5L391.4 841.6L397.4 849L400.4 851.8L403.4 854L407.9 855.9L410.9 856.6L415.4 856.7L419.9 857.4L421.4 857.4L424.4 856.5L433.4 852.4L445.4 846.3L451.4 843.1L460.4 839.4L463.4 838.5L472.4 834L479.9 831.3L490.4 828L496.4 826.9L506.9 826.1L550.4 825.1L649.4 824.5L651.5 824.5" stroke="#D95319" transform="translate(-0.50 0)"/><use href="#p30byr" x="1.00"/>
<path id="p30bzr" d="M95.9 823.5L154.4 823L194.9 822L209.9 821.2L253.4 816.3L265.4 816.1L269.9 816.4L272.9 817.3L275.9 818.9L277.4 820L278.9 821.3L280.4 823L283.4 827L284.9 828.8L286.4 830.2L290.9 833.4L292.4 834.7L296.9 839.6L299.9 841.6L302.9 843.2L305.9 844.2L314.9 846.6L319.4 847.2L320.9 847.8L326.9 851.4L329.9 852.4L335.9 854L343.4 856.4L347.9 858.4L350.9 860.4L355.4 864.1L356.9 865.1L358.4 865.7L364.4 867.1L385.4 866.1L389.9 865.3L394.4 863.8L398.9 861.7L400.4 860.7L403.4 857.7L409.4 850.1L413.9 844.3L422.9 833.8L427.4 829.5L430.4 827L433.4 825.2L446.9 819.6L451.4 818.4L458.9 817.3L473.9 817.2L479.9 816.9L484.4 817.4L502.4 820.2L511.4 821.8L530.9 822.8L598.4 823.8L651.5 824.1" stroke="#EDB120" transform="translate(-0.50 0)"/><use href="#p30bzr" x="1.00"/>
<path id="p30bx" d="M95.9 824.5L145.4 825L185.9 826L209.9 827.4L224.9 829.1L235.4 831L242.9 832.9L250.4 835.5L256.4 838.3L260.9 841L265.4 844.5L269.9 848.8L272.9 852.3L275.9 856.2L278.9 860.8L280.4 863.3L281.9 866.1L284.9 872.6L290.9 885.7L295.4 895.2L299.9 904.1L302.9 909.4L305.9 913.9L310.4 919.8L314.9 925.1L319.4 929.8L323.9 933.8L328.4 937L337.4 942.4L347.9 949.3L352.4 952.5L353.9 953.2L356.9 953.7L364.4 954.1L373.4 953.6L377.9 952.8L383.9 950.8L388.4 948.5L391.4 946.5L395.9 942.4L398.9 939.2L403.4 933.4L407.9 927.2L412.4 920.1L415.4 914.7L419.9 906.1L427.4 892.9L433.4 882.9L436.4 878.6L451.4 860.1L458.9 851.7L463.4 847.1L467.9 843.2L476.9 836.8L479.9 835L485.9 832.6L493.4 830.5L503.9 828.4L515.9 827.2L538.4 826.1L589.4 825L651.5 824.7" stroke="#7E2F8E" transform="translate(-0.50 0)"/><use href="#p30bx" x="1.00"/>
<path id="p30by" d="M95.9 824.5L175.4 824L205.4 823.1L217.4 822L229.4 820.3L242.9 817.3L250.4 815.1L254.9 813.2L260.9 810L268.4 805L271.4 802.6L275.9 798.1L277.4 796.7L278.9 795.7L283.4 793.5L284.9 793L286.4 792.7L287.9 792.8L290.9 793.8L295.4 796.1L299.9 799.3L301.4 800.1L305.9 801.5L314.9 803.2L320.9 804.1L325.4 805.7L328.4 806.7L331.4 807L343.4 806.6L344.9 806.7L346.4 807.3L349.4 809.3L352.4 811.5L355.4 814.5L358.4 817.7L364.4 823.3L368.9 826.6L377.9 831.8L382.4 834.6L385.4 837.2L397.4 849.1L401.9 853.2L403.4 854.3L407.9 856.7L410.9 857.6L418.4 857.8L421.4 857.6L424.4 856.3L434.9 850.9L454.4 843.1L472.4 834L479.9 831.3L490.4 827.9L496.4 826.9L506.9 826.1L550.4 825.1L649.4 824.5L651.5 824.5" stroke="#77AC30" transform="translate(-0.50 0)"/><use href="#p30by" x="1.00"/>
<path id="p30bz" d="M95.9 823.5L154.4 823L194.9 822L209.9 821.2L253.4 816.3L259.4 816.2L266.9 817L269.9 817.5L271.4 818L274.4 819.6L280.4 824.2L284.9 828.8L289.4 833.4L293.9 837.8L295.4 839.1L296.9 840.1L299.9 841.2L308.9 843.1L316.4 845.3L320.9 847.3L325.4 849.4L329.9 850.5L335.9 851.6L338.9 852.9L343.4 856.1L344.9 857.4L349.4 862.9L350.9 864.5L355.4 868.3L356.9 869.2L358.4 869.7L362.9 869.6L376.4 868.3L386.9 867.7L391.4 866.6L394.4 865.5L397.4 863.4L401.9 859.3L404.9 855.7L421.4 833.2L422.9 831.6L425.9 829.1L430.4 826.5L434.9 824.7L443.9 821.7L451.4 819.1L458.9 817.2L467.9 816.2L476.9 816.4L481.4 816.8L490.4 818.7L506.9 821.3L520.4 822.3L544.4 823.1L610.4 823.9L651.5 824.1" stroke="#4DBEEE" transform="translate(-0.50 0)"/><use href="#p30bz" x="1.00"/>
</g>
<g font-size="22" fill="#262626" stroke="#262626" stroke-width="0.42" text-anchor="middle">
<text x="95.3" y="1010.1">-100</text>
<text x="234.2" y="1010.1">-50</text>
<text x="373.7" y="1010.1">0</text>
<text x="512.6" y="1010.1">50</text>
<text x="651.5" y="1010.1">100</text>
</g>
<g font-size="22" fill="#262626" stroke="#262626" stroke-width="0.42" text-anchor="end">
<text x="88.7" y="832.9">0</text>
<text x="88.7" y="911.5">-500</text>
<text x="88.7" y="990.1">-1000</text>
</g>
<text transform="translate(25.2,887.9) rotate(-90)" font-size="22" fill="#262626" stroke="#262626" stroke-width="0.42" text-anchor="middle">E</text>
<text x="373.7" y="1038.9" font-size="22" fill="#262626" stroke="#262626" stroke-width="0.42" text-anchor="middle">[m]</text>
</g>
<g>
<path d="M900.00 792.10V981.75M1038.90 792.10V981.75M1177.80 792.10V981.75" stroke="#262626" stroke-opacity="0.15" stroke-width="2.9" fill="none"/>
<path d="M761.10 855.50H1316.70M761.10 918.70H1316.70" stroke="#262626" stroke-opacity="0.15" stroke-width="2.9" fill="none"/>
<path d="M900.00 981.75v-6.60M900.00 792.10v6.60M1038.90 981.75v-6.60M1038.90 792.10v6.60M1177.80 981.75v-6.60M1177.80 792.10v6.60M761.10 855.50h6.60M1316.70 855.50h-6.60M761.10 918.70h6.60M1316.70 918.70h-6.60" stroke="#1a1a1a" stroke-width="3.0" fill="none"/>
<rect x="761.10" y="792.10" width="555.60" height="189.65" fill="none" stroke="#1a1a1a" stroke-width="3.0"/>
<g clip-path="url(#c31)" fill="none" stroke-width="2.9" stroke-linejoin="round">
<path id="p31bxr" d="M761.1 855.5L828.6 856L857.1 856.8L878.1 858L897.6 860L911.1 862.2L918.6 864.1L924.6 866.4L929.1 868.7L936.6 873.7L944.1 878.6L947.1 881.1L966.6 900.8L968.1 902.1L971.1 903.7L974.1 905.2L981.6 910.6L986.1 912.7L992.1 914.7L996.6 916.7L1002.6 918L1013.1 920.2L1023.6 921L1029.6 920.7L1041.6 920.2L1046.1 919.5L1053.6 917.5L1062.6 913.4L1071.6 908.5L1077.6 904.8L1080.6 902.2L1085.1 897.6L1086.6 896.3L1089.6 894.4L1092.6 892.9L1094.1 891.9L1101.6 885.6L1106.1 882.7L1112.1 879.6L1121.1 873.9L1130.1 869L1139.1 864.9L1148.1 861.8L1155.6 859.8L1163.1 858.7L1185.6 857.1L1232.1 855.9L1316.7 855.5" stroke="#0072BD" transform="translate(-0.50 0)"/><use href="#p31bxr" x="1.00"/>
<path id="p31byr" d="M761.1 855.5L836.1 855.1L860.1 854.2L873.6 853.2L902.1 848.6L908.1 846.9L914.1 844.4L923.1 839.4L926.1 837.2L929.1 834.4L932.1 830.9L944.1 815.1L947.1 811.7L951.6 807.4L953.1 806.6L954.6 806.4L956.1 806.7L957.6 807.6L959.1 809L960.6 810.9L966.6 819.5L968.1 821.4L969.6 823.1L971.1 824.4L972.6 825.5L974.1 826.4L977.1 827.3L981.6 828.4L989.1 832L990.6 832.5L993.6 832.8L995.1 833.4L998.1 835.3L999.6 836.1L1002.6 837.1L1005.6 838.5L1007.1 839.4L1008.6 839.9L1011.6 839.9L1013.1 840.4L1017.6 843.5L1028.1 851.8L1035.6 858.2L1040.1 862L1044.6 866.2L1050.6 871.6L1056.6 877.6L1059.6 881.2L1062.6 885.5L1065.6 890.2L1067.1 892.2L1070.1 895.6L1073.1 898.3L1074.6 899.3L1076.1 900.2L1077.6 900.7L1080.6 901.1L1085.1 901.1L1088.1 900.5L1089.6 899.9L1091.1 899.1L1092.6 897.9L1097.1 893.6L1100.1 891.4L1106.1 888.2L1110.6 886.5L1115.1 885.1L1118.1 883.6L1128.6 877L1133.1 874.6L1142.1 868.1L1145.1 866.3L1149.6 864.6L1167.6 859.6L1176.6 857.8L1197.6 856.8L1233.6 855.9L1316.7 855.5" stroke="#D95319" transform="translate(-0.50 0)"/><use href="#p31byr" x="1.00"/>
<path id="p31bzr" d="M761.1 855.1L834.6 854.1L879.6 852.8L897.6 852.3L923.1 852.4L926.1 852.7L929.1 853.9L932.1 855.7L936.6 859L938.1 860.3L939.6 861.9L941.1 863.8L942.6 866.6L944.1 870.3L945.6 875.1L953.1 901.6L957.6 917L959.1 921.9L960.6 926.3L962.1 929.7L963.6 932.4L965.1 934.6L966.6 936.6L968.1 938.3L969.6 939.7L975.6 943.7L980.1 947.2L983.1 949.2L984.6 950.6L987.6 954.2L989.1 955.6L990.6 956.4L996.6 958L998.1 958.8L1002.6 961.9L1004.1 963.4L1005.6 965.3L1007.1 967.6L1008.6 970.2L1010.1 972.4L1011.6 973.6L1014.6 975.3L1016.1 975.9L1020.6 976.7L1023.6 977L1028.1 976.7L1032.6 977.3L1038.6 978.5L1043.1 978.2L1049.1 977.3L1052.1 976.4L1055.1 974.9L1056.6 973.8L1059.6 970.8L1062.6 967.1L1065.6 962.5L1067.1 959.9L1068.6 957L1070.1 953.7L1071.6 950L1076.1 937.8L1077.6 934.1L1080.6 927.5L1089.6 908.6L1094.1 898.5L1095.6 895.5L1097.1 893L1098.6 890.8L1100.1 889L1107.6 881.3L1112.1 875.8L1116.6 871.2L1124.1 863.6L1128.6 859.8L1131.6 857.9L1137.6 855L1143.6 853.2L1148.1 852.6L1158.6 852.3L1164.6 851.8L1172.1 852.3L1176.6 852.9L1230.6 854.5L1311.6 855.1L1316.7 855.1" stroke="#EDB120" transform="translate(-0.50 0)"/><use href="#p31bzr" x="1.00"/>
<path id="p31bx" d="M761.1 855.5L828.6 856L857.1 856.8L878.1 858L897.6 860L911.1 862.2L918.6 864.1L924.6 866.4L933.6 871.1L938.1 873.8L942.6 877.1L945.6 879.6L966.6 900.8L974.1 907.4L980.1 912.2L984.6 914.9L987.6 916.3L990.6 917.1L996.6 918.1L1011.6 918.5L1040.1 919.2L1047.6 918.7L1052.1 918L1056.6 916.2L1064.1 912.7L1073.1 907.7L1082.1 901.8L1089.6 896.2L1097.1 890.2L1115.1 877.6L1124.1 872.1L1133.1 867.5L1142.1 863.8L1152.6 860.5L1158.6 859.3L1175.1 857.7L1193.1 856.8L1238.1 855.9L1316.7 855.5" stroke="#7E2F8E" transform="translate(-0.50 0)"/><use href="#p31bx" x="1.00"/>
<path id="p31by" d="M761.1 855.5L836.1 855.1L860.1 854.2L873.6 853.2L902.1 848.6L908.1 846.9L914.1 844.4L918.6 841.9L923.1 838.6L929.1 833.4L932.1 830.4L936.6 825L944.1 815.1L947.1 811.6L950.1 808.9L951.6 807.7L953.1 807L954.6 807.1L957.6 808.4L959.1 809.6L966.6 818.8L968.1 820.5L971.1 823.1L972.6 824.1L974.1 824.9L977.1 825.6L981.6 826.4L983.1 827L984.6 827.9L987.6 830.5L989.1 832L992.1 835.6L993.6 836.8L996.6 838.2L998.1 838.6L999.6 838.8L1002.6 838.1L1005.6 837.3L1010.1 836.9L1011.6 837L1013.1 837.9L1017.6 842.4L1022.1 847.8L1026.6 852.5L1029.6 854.8L1038.6 859.8L1041.6 862L1044.6 864.6L1047.6 867.8L1053.6 875.5L1061.1 885.6L1065.6 891L1068.6 893.8L1073.1 897.1L1077.6 899.6L1080.6 900.6L1083.6 901.1L1085.1 901.2L1086.6 901L1089.6 899.8L1091.1 899L1092.6 897.7L1095.6 894.3L1100.1 890.3L1103.1 888.2L1106.1 886.5L1107.6 886L1116.6 884.7L1121.1 883.1L1122.6 882.2L1131.6 874.3L1136.1 871.1L1142.1 867.7L1149.6 864.5L1163.1 860L1169.1 858.7L1178.1 857.7L1202.1 856.6L1236.6 855.9L1316.7 855.5" stroke="#77AC30" transform="translate(-0.50 0)"/><use href="#p31by" x="1.00"/>
<path id="p31bz" d="M761.1 855.1L836.1 854.1L879.6 852.8L897.6 852.3L923.1 852.3L924.6 852.6L927.6 853.9L930.6 855.9L936.6 861.3L938.1 862.9L939.6 864.8L941.1 867.1L942.6 869.6L944.1 872.5L945.6 876.2L947.1 880.7L951.6 895.5L954.6 905.7L959.1 920.3L960.6 924.4L962.1 927.5L963.6 930L966.6 934L969.6 937.3L974.1 941.6L977.1 945.2L980.1 949.2L986.1 956L987.6 957.4L989.1 958.2L993.6 958.1L999.6 957.9L1001.1 958.3L1002.6 959.2L1005.6 961.7L1007.1 963.7L1010.1 968.7L1014.6 975.5L1016.1 977.1L1019.1 978.5L1020.6 979L1022.1 979.2L1023.6 979L1029.6 977.3L1038.6 976.7L1047.6 976.9L1050.6 976.2L1055.1 974.1L1056.6 972.9L1058.1 971.4L1059.6 969.5L1061.1 967.5L1062.6 964.9L1070.1 950.1L1073.1 943.6L1088.1 908.4L1091.1 901.8L1092.6 898.7L1094.1 896.1L1095.6 893.9L1098.6 890.4L1101.6 887.6L1107.6 883.3L1110.6 880.3L1115.1 874.9L1118.1 870.9L1121.1 866.5L1124.1 862.8L1127.1 859.4L1128.6 858L1130.1 856.8L1134.6 854.4L1137.6 853.3L1145.1 852.4L1160.1 852.5L1232.1 854.5L1313.1 855.1L1316.7 855.1" stroke="#4DBEEE" transform="translate(-0.50 0)"/><use href="#p31bz" x="1.00"/>
</g>
<g font-size="22" fill="#262626" stroke="#262626" stroke-width="0.42" text-anchor="middle">
<text x="760.5" y="1010.1">-100</text>
<text x="899.4" y="1010.1">-50</text>
<text x="1038.9" y="1010.1">0</text>
<text x="1177.8" y="1010.1">50</text>
<text x="1316.7" y="1010.1">100</text>
</g>
<g font-size="22" fill="#262626" stroke="#262626" stroke-width="0.42" text-anchor="end">
<text x="753.9" y="800.5">500</text>
<text x="753.9" y="863.9">0</text>
<text x="753.9" y="927.1">-500</text>
<text x="753.9" y="990.1">-1000</text>
</g>
<text x="1038.9" y="1038.9" font-size="22" fill="#262626" stroke="#262626" stroke-width="0.42" text-anchor="middle">[m]</text>
</g>
<g>
<path d="M1565.50 792.10V981.75M1704.40 792.10V981.75M1843.30 792.10V981.75" stroke="#262626" stroke-opacity="0.15" stroke-width="2.9" fill="none"/>
<path d="M1426.60 855.50H1982.20M1426.60 918.70H1982.20" stroke="#262626" stroke-opacity="0.15" stroke-width="2.9" fill="none"/>
<path d="M1565.50 981.75v-6.60M1565.50 792.10v6.60M1704.40 981.75v-6.60M1704.40 792.10v6.60M1843.30 981.75v-6.60M1843.30 792.10v6.60M1426.60 855.50h6.60M1982.20 855.50h-6.60M1426.60 918.70h6.60M1982.20 918.70h-6.60" stroke="#1a1a1a" stroke-width="3.0" fill="none"/>
<rect x="1426.60" y="792.10" width="555.60" height="189.65" fill="none" stroke="#1a1a1a" stroke-width="3.0"/>
<g clip-path="url(#c32)" fill="none" stroke-width="2.9" stroke-linejoin="round">
<path id="p32bxr" d="M1426.6 855.9L1494.1 856.4L1530.1 857.6L1579.6 859.5L1591.6 859.7L1596.1 859L1602.1 857.2L1606.6 855.1L1611.1 852.3L1617.1 847.6L1621.6 843.6L1623.1 842.4L1630.6 838.1L1635.1 836.3L1645.6 833.6L1650.1 833.2L1656.1 833.1L1663.6 831.8L1669.6 829.9L1672.6 829.4L1684.6 829.5L1692.1 829.2L1699.6 829.1L1705.6 828.2L1707.1 827.8L1708.6 827.7L1714.6 828.6L1717.6 828.6L1723.6 827.6L1725.1 827.6L1726.6 827.9L1728.1 828.6L1732.6 832.3L1743.1 838.8L1753.6 844L1761.1 847.9L1768.6 851.2L1773.1 852.6L1780.6 854.5L1792.6 858.6L1797.1 859.4L1807.6 860.2L1813.6 860L1825.6 858.4L1888.6 856.1L1957.6 855.5L1982.2 855.5" stroke="#0072BD" transform="translate(-0.50 0)"/><use href="#p32bxr" x="1.00"/>
<path id="p32byr" d="M1426.6 855.5L1489.6 855L1506.1 854.5L1542.1 851.9L1555.6 850.2L1564.6 848.4L1570.6 846.4L1578.1 843.1L1584.1 839.7L1587.1 838.3L1590.1 836.3L1593.1 833.3L1596.1 829.6L1600.6 823.3L1603.6 818.7L1605.1 816.6L1608.1 813.6L1612.6 809.7L1614.1 808.7L1615.6 808L1618.6 807.2L1620.1 807.1L1621.6 807.5L1623.1 808.4L1626.1 811.2L1632.1 817.9L1633.6 819.3L1636.6 821.5L1648.6 827.2L1654.6 828.8L1656.1 829.5L1657.6 830.6L1662.1 834.9L1663.6 836L1666.6 837.3L1674.1 839.5L1677.1 841.1L1686.1 847.3L1690.6 851.1L1699.6 859.1L1704.1 863.4L1713.1 870.4L1720.6 877.9L1725.1 883.1L1732.6 893.1L1734.1 894.8L1737.1 897.5L1740.1 899.6L1741.6 900.3L1744.6 900.8L1749.1 900.7L1752.1 900.1L1756.6 898L1761.1 895.2L1764.1 893.1L1767.1 891.8L1771.6 890L1780.6 885.4L1791.1 878.4L1795.6 875.9L1812.1 867.8L1824.1 863.1L1833.1 860.1L1842.1 858.5L1857.1 857.1L1887.1 856.1L1971.1 855.5L1982.2 855.5" stroke="#D95319" transform="translate(-0.50 0)"/><use href="#p32byr" x="1.00"/>
<path id="p32bzr" d="M1426.6 855.1L1500.1 854.5L1540.6 853.6L1582.6 853.7L1585.6 854.2L1588.6 855.3L1593.1 857.9L1597.6 861.2L1599.1 862.7L1600.6 864.7L1602.1 867.3L1609.6 883.3L1615.6 896.9L1618.6 904.3L1620.1 908.3L1623.1 916.8L1624.6 920.6L1626.1 923.8L1627.6 926.6L1629.1 928.9L1630.6 930.9L1633.6 933.8L1641.1 939.8L1645.6 942.1L1647.1 943.4L1653.1 950.5L1662.1 958.9L1669.6 965.2L1674.1 970.1L1675.6 971.4L1678.6 973.2L1683.1 975.2L1687.6 976L1699.6 977.3L1701.1 977.5L1704.1 977.1L1707.1 976.5L1711.6 975.9L1714.6 975L1719.1 972.8L1722.1 970.8L1723.6 969.6L1725.1 968L1729.6 962.3L1731.1 960.1L1732.6 957.5L1734.1 954.4L1735.6 950.9L1740.1 938.7L1741.6 934.9L1746.1 924.6L1750.6 914.8L1755.1 905.6L1756.6 902.8L1758.1 900.2L1761.1 895.9L1770.1 884L1774.6 878.2L1779.1 872.5L1782.1 869.5L1786.6 866.3L1794.1 861.2L1803.1 856.8L1809.1 854.7L1815.1 853.8L1833.1 852.8L1842.1 852.9L1852.6 854L1908.1 854.8L1982.2 855.1" stroke="#EDB120" transform="translate(-0.50 0)"/><use href="#p32bzr" x="1.00"/>
<path id="p32bx" d="M1426.6 855.9L1494.1 856.4L1528.6 857.6L1579.6 859.5L1591.6 859.7L1596.1 859L1602.1 857.2L1606.6 855.1L1611.1 852.3L1617.1 847.6L1624.6 841.1L1629.1 837.7L1632.1 836L1636.6 834.4L1645.6 832.1L1648.6 831.7L1663.6 832.1L1668.1 831.4L1675.6 829.8L1686.1 828.4L1698.1 828.4L1723.6 828.9L1725.1 829.2L1738.6 835L1749.1 840.9L1756.6 845.1L1764.1 848.3L1779.1 853.6L1785.1 856.1L1792.6 858.5L1797.1 859L1810.6 859.3L1836.1 858L1890.1 856L1966.6 855.5L1982.2 855.5" stroke="#7E2F8E" transform="translate(-0.50 0)"/><use href="#p32bx" x="1.00"/>
<path id="p32by" d="M1426.6 855.5L1489.6 855L1506.1 854.5L1542.1 851.9L1555.6 850.2L1564.6 848.4L1570.6 846.4L1578.1 843.1L1584.1 839.8L1588.6 836.5L1591.6 833.7L1599.1 825.4L1606.6 816.2L1611.1 811L1612.6 809.5L1614.1 808.5L1618.6 808L1620.1 807.9L1621.6 808.1L1623.1 809L1629.1 814.3L1632.1 817.1L1633.6 818.2L1636.6 819.8L1642.6 822.4L1648.6 825.7L1653.1 829L1660.6 834.5L1663.6 836.2L1666.6 836.9L1672.6 837.7L1674.1 838.1L1675.6 838.8L1678.6 841.3L1684.6 847.3L1687.6 850.4L1690.6 852.8L1702.6 860L1705.6 862.3L1710.1 866.8L1714.6 872L1725.1 885.5L1731.1 892.2L1734.1 895L1738.6 898.1L1741.6 899.5L1747.6 900.5L1750.6 900.6L1752.1 900.2L1755.1 898.8L1758.1 897.1L1761.1 894.8L1764.1 892.4L1768.6 889.7L1773.1 887.7L1780.6 885.5L1786.6 882.9L1789.6 881.1L1795.6 876.5L1803.1 871.9L1812.1 867.1L1819.6 864L1828.6 861.1L1836.1 859.4L1846.6 857.9L1861.6 856.8L1894.6 855.9L1982.2 855.5" stroke="#77AC30" transform="translate(-0.50 0)"/><use href="#p32by" x="1.00"/>
<path id="p32bz" d="M1426.6 855.1L1500.1 854.5L1540.6 853.6L1582.6 853.6L1585.6 854.2L1588.6 855.3L1593.1 857.9L1597.6 861.1L1599.1 862.6L1600.6 864.6L1603.6 869.6L1608.1 877.6L1611.1 883.7L1612.6 887L1614.1 890.6L1620.1 907.1L1621.6 911.4L1623.1 915.4L1624.6 918.8L1626.1 921.6L1627.6 924.2L1630.6 928.5L1633.6 932L1638.1 936.9L1647.1 948.3L1650.1 952.4L1651.6 954.1L1653.1 955.6L1656.1 957.7L1663.6 961.7L1669.6 964.7L1672.6 966.8L1675.6 969.3L1678.6 971.2L1683.1 973.4L1686.1 974L1696.6 974.6L1710.1 976.6L1713.1 976.6L1716.1 975.9L1717.6 975.4L1719.1 974.6L1720.6 973.4L1723.6 970.3L1725.1 968.2L1728.1 962.8L1731.1 957.2L1734.1 951.1L1737.1 944.3L1750.6 912.6L1755.1 902.8L1756.6 900L1758.1 897.5L1761.1 893.5L1767.1 886.8L1792.6 861.4L1794.1 860L1797.1 858.1L1801.6 856L1807.6 854.7L1815.1 854.1L1833.1 853.6L1903.6 854.8L1982.2 855.1" stroke="#4DBEEE" transform="translate(-0.50 0)"/><use href="#p32bz" x="1.00"/>
</g>
<g font-size="22" fill="#262626" stroke="#262626" stroke-width="0.42" text-anchor="middle">
<text x="1426.0" y="1010.1">-100</text>
<text x="1564.9" y="1010.1">-50</text>
<text x="1704.4" y="1010.1">0</text>
<text x="1843.3" y="1010.1">50</text>
<text x="1982.2" y="1010.1">100</text>
</g>
<g font-size="22" fill="#262626" stroke="#262626" stroke-width="0.42" text-anchor="end">
<text x="1419.4" y="800.5">500</text>
<text x="1419.4" y="863.9">0</text>
<text x="1419.4" y="927.1">-500</text>
<text x="1419.4" y="990.1">-1000</text>
</g>
<text x="1704.4" y="1038.9" font-size="22" fill="#262626" stroke="#262626" stroke-width="0.42" text-anchor="middle">[m]</text>
</g>
<g>
<rect x="1845.9" y="65.0" width="126.3" height="166.3" fill="#fff" stroke="#1a1a1a" stroke-width="3.1"/>
<path d="M1848.5 80.0H1882" stroke="#0072BD" stroke-width="2.7" fill="none"/>
<text x="1884.0" y="87.6" font-size="22" fill="#000" stroke="#000" stroke-width="0.52">BxREF</text>
<path d="M1848.5 107.3H1882" stroke="#D95319" stroke-width="2.7" fill="none"/>
<text x="1884.0" y="114.9" font-size="22" fill="#000" stroke="#000" stroke-width="0.52">ByREF</text>
<path d="M1848.5 134.7H1882" stroke="#EDB120" stroke-width="2.7" fill="none"/>
<text x="1884.0" y="142.3" font-size="22" fill="#000" stroke="#000" stroke-width="0.52">BzREF</text>
<path d="M1848.5 162.0H1882" stroke="#7E2F8E" stroke-width="2.7" fill="none"/>
<text x="1884.0" y="169.6" font-size="22" fill="#000" stroke="#000" stroke-width="0.52">BxModel</text>
<path d="M1848.5 189.3H1882" stroke="#77AC30" stroke-width="2.7" fill="none"/>
<text x="1884.0" y="196.9" font-size="22" fill="#000" stroke="#000" stroke-width="0.52">ByModel</text>
<path d="M1848.5 216.6H1882" stroke="#4DBEEE" stroke-width="2.7" fill="none"/>
<text x="1884.0" y="224.2" font-size="22" fill="#000" stroke="#000" stroke-width="0.52">BzModel</text>
</g>
</svg>
</body>
</html>
